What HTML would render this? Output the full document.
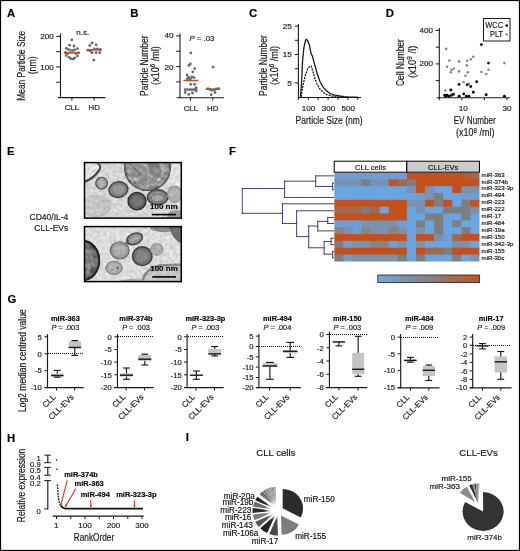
<!DOCTYPE html>
<html><head><meta charset="utf-8"><title>Figure</title>
<style>html,body{margin:0;padding:0;background:#fff;}body{width:520px;height:551px;overflow:hidden;}svg{display:block;font-family:"Liberation Sans",sans-serif;will-change:transform;transform:translateZ(0);}text{stroke:#1a1a1a;stroke-width:0.18px;}</style></head><body>
<svg width="520" height="551" viewBox="0 0 520 551">
<defs>
<linearGradient id="hg" x1="0" x2="1" y1="0" y2="0"><stop offset="0" stop-color="#6ea9e2"/><stop offset="0.5" stop-color="#86817d"/><stop offset="1" stop-color="#c4531d"/></linearGradient>
<radialGradient id="pg"><stop offset="0" stop-color="#fff" stop-opacity="1"/><stop offset="0.45" stop-color="#fff" stop-opacity="0.8"/><stop offset="1" stop-color="#fff" stop-opacity="0"/></radialGradient>
<filter id="em" x="0" y="0" width="100%" height="100%" color-interpolation-filters="sRGB"><feGaussianBlur in="SourceGraphic" stdDeviation="0.75" result="b"/><feTurbulence type="fractalNoise" baseFrequency="0.3" numOctaves="2" seed="11" result="t"/><feColorMatrix in="t" type="matrix" values="1 0 0 0 0  1 0 0 0 0  1 0 0 0 0  0 0 0 0 1" result="g"/><feComposite in="b" in2="g" operator="arithmetic" k1="0.28" k2="0.86" k3="0" k4="0"/></filter>
<filter id="em2" x="-10%" y="-10%" width="120%" height="120%" color-interpolation-filters="sRGB"><feTurbulence type="fractalNoise" baseFrequency="0.22" numOctaves="3" seed="5" result="t"/><feColorMatrix in="t" type="matrix" values="1 0 0 0 0  1 0 0 0 0  1 0 0 0 0  0 0 0 0 1" result="g"/><feComposite in="SourceGraphic" in2="g" operator="arithmetic" k1="0.9" k2="0.55" k3="0" k4="0" result="c"/><feComposite in="c" in2="SourceGraphic" operator="in"/></filter>
</defs>
<rect x="0" y="0" width="520" height="551" fill="#fff"/>
<text x="7.10" y="17.00" font-size="11.4" text-anchor="start" font-weight="bold" font-style="normal" fill="#000" stroke-width="0">A</text>
<line x1="60.50" y1="33.50" x2="60.50" y2="98.00" stroke="#1a1a1a" stroke-width="1.1" />
<line x1="58.00" y1="97.60" x2="105.20" y2="97.60" stroke="#1a1a1a" stroke-width="1.1" />
<line x1="56.20" y1="36.40" x2="60.50" y2="36.40" stroke="#1a1a1a" stroke-width="1" />
<line x1="56.20" y1="51.68" x2="60.50" y2="51.68" stroke="#1a1a1a" stroke-width="1" />
<line x1="56.20" y1="66.95" x2="60.50" y2="66.95" stroke="#1a1a1a" stroke-width="1" />
<line x1="56.20" y1="82.22" x2="60.50" y2="82.22" stroke="#1a1a1a" stroke-width="1" />
<text x="53.80" y="39.00" font-size="8.1" text-anchor="end" font-weight="normal" font-style="normal" fill="#1a1a1a" >200</text>
<text x="53.80" y="69.50" font-size="8.1" text-anchor="end" font-weight="normal" font-style="normal" fill="#1a1a1a" >100</text>
<line x1="71.90" y1="97.60" x2="71.90" y2="100.50" stroke="#1a1a1a" stroke-width="1" />
<line x1="94.20" y1="97.60" x2="94.20" y2="100.50" stroke="#1a1a1a" stroke-width="1" />
<text x="71.90" y="110.30" font-size="7.8" text-anchor="middle" font-weight="normal" font-style="normal" fill="#1a1a1a" >CLL</text>
<text x="94.20" y="110.30" font-size="7.8" text-anchor="middle" font-weight="normal" font-style="normal" fill="#1a1a1a" >HD</text>
<text x="82.80" y="34.50" font-size="8" text-anchor="middle" font-weight="normal" font-style="normal" fill="#1a1a1a" >n.s.</text>
<text transform="translate(24.50 100.70) rotate(-90) scale(0.8231 1)" font-size="10.2" fill="#1a1a1a">Mean Particle Size</text>
<text transform="translate(35.60 74.30) rotate(-90) scale(0.8586 1)" font-size="10.2" fill="#1a1a1a">(nm)</text>
<circle cx="71.9" cy="39.8" r="1.4" fill="#686868"/>
<circle cx="69.6" cy="45.2" r="1.4" fill="#686868"/>
<circle cx="74.0" cy="46.0" r="1.4" fill="#686868"/>
<circle cx="66.2" cy="48.4" r="1.4" fill="#686868"/>
<circle cx="77.5" cy="48.7" r="1.4" fill="#686868"/>
<circle cx="68.5" cy="49.5" r="1.4" fill="#686868"/>
<circle cx="74.8" cy="49.8" r="1.4" fill="#686868"/>
<circle cx="70.8" cy="50.6" r="1.4" fill="#686868"/>
<circle cx="73.1" cy="50.6" r="1.4" fill="#686868"/>
<circle cx="66.2" cy="55.6" r="1.4" fill="#686868"/>
<circle cx="77.5" cy="55.9" r="1.4" fill="#686868"/>
<circle cx="69.0" cy="57.3" r="1.4" fill="#686868"/>
<circle cx="74.8" cy="57.9" r="1.4" fill="#686868"/>
<circle cx="70.8" cy="58.7" r="1.4" fill="#686868"/>
<circle cx="73.1" cy="59.0" r="1.4" fill="#686868"/>
<circle cx="65.5" cy="52.5" r="1.4" fill="#686868"/>
<circle cx="78.5" cy="52.7" r="1.4" fill="#686868"/>
<circle cx="67.8" cy="53.6" r="1.4" fill="#686868"/>
<circle cx="76.2" cy="53.5" r="1.4" fill="#686868"/>
<circle cx="92.1" cy="42.9" r="1.4" fill="#686868"/>
<circle cx="89.8" cy="45.5" r="1.4" fill="#686868"/>
<circle cx="96.2" cy="44.8" r="1.4" fill="#686868"/>
<circle cx="94.4" cy="49.0" r="1.4" fill="#686868"/>
<circle cx="97.3" cy="49.0" r="1.4" fill="#686868"/>
<circle cx="100.2" cy="49.5" r="1.4" fill="#686868"/>
<circle cx="88.0" cy="50.2" r="1.4" fill="#686868"/>
<circle cx="90.4" cy="51.0" r="1.4" fill="#686868"/>
<circle cx="92.1" cy="52.7" r="1.4" fill="#686868"/>
<circle cx="96.2" cy="52.7" r="1.4" fill="#686868"/>
<circle cx="99.8" cy="52.7" r="1.4" fill="#686868"/>
<circle cx="93.8" cy="60.2" r="1.4" fill="#686868"/>
<line x1="64.20" y1="52.90" x2="79.80" y2="52.90" stroke="#c4442c" stroke-width="1.6" />
<line x1="86.70" y1="49.80" x2="101.70" y2="49.80" stroke="#c4442c" stroke-width="1.6" />
<text x="130.20" y="17.10" font-size="11.4" text-anchor="start" font-weight="bold" font-style="normal" fill="#000" stroke-width="0">B</text>
<line x1="180.00" y1="33.50" x2="180.00" y2="98.10" stroke="#1a1a1a" stroke-width="1.1" />
<line x1="176.60" y1="97.70" x2="224.00" y2="97.70" stroke="#1a1a1a" stroke-width="1.1" />
<line x1="176.20" y1="35.90" x2="180.00" y2="35.90" stroke="#1a1a1a" stroke-width="1" />
<line x1="176.20" y1="51.25" x2="180.00" y2="51.25" stroke="#1a1a1a" stroke-width="1" />
<line x1="176.20" y1="66.60" x2="180.00" y2="66.60" stroke="#1a1a1a" stroke-width="1" />
<line x1="176.20" y1="81.95" x2="180.00" y2="81.95" stroke="#1a1a1a" stroke-width="1" />
<text x="173.60" y="38.40" font-size="8.1" text-anchor="end" font-weight="normal" font-style="normal" fill="#1a1a1a" >40</text>
<text x="173.60" y="69.60" font-size="8.1" text-anchor="end" font-weight="normal" font-style="normal" fill="#1a1a1a" >20</text>
<line x1="190.50" y1="97.70" x2="190.50" y2="100.50" stroke="#1a1a1a" stroke-width="1" />
<line x1="212.80" y1="97.70" x2="212.80" y2="100.50" stroke="#1a1a1a" stroke-width="1" />
<text x="190.90" y="110.60" font-size="7.8" text-anchor="middle" font-weight="normal" font-style="normal" fill="#1a1a1a" >CLL</text>
<text x="212.70" y="110.60" font-size="7.8" text-anchor="middle" font-weight="normal" font-style="normal" fill="#1a1a1a" >HD</text>
<text x="201.9" y="41" font-size="7.7" text-anchor="middle" fill="#1a1a1a"><tspan font-style="italic">P</tspan> = .03</text>
<text transform="translate(148.10 95.90) rotate(-90) scale(0.8260 1)" font-size="10.2" fill="#1a1a1a">Particle Number</text>
<text transform="translate(158.70 84.90) rotate(-90) scale(0.8914 1)" font-size="10.2" fill="#1a1a1a">(x10<tspan font-size="6.94" dy="-3.67">6</tspan><tspan dy="3.67"> /ml)</tspan></text>
<circle cx="190.8" cy="52.9" r="1.4" fill="#686868"/>
<circle cx="190.3" cy="63.9" r="1.4" fill="#686868"/>
<circle cx="188.9" cy="65.4" r="1.4" fill="#686868"/>
<circle cx="194.7" cy="68.6" r="1.4" fill="#686868"/>
<circle cx="192.8" cy="71.8" r="1.4" fill="#686868"/>
<circle cx="187.1" cy="75.1" r="1.4" fill="#686868"/>
<circle cx="188.6" cy="77.3" r="1.4" fill="#686868"/>
<circle cx="191.8" cy="77.0" r="1.4" fill="#686868"/>
<circle cx="194.0" cy="77.6" r="1.4" fill="#686868"/>
<circle cx="187.4" cy="79.0" r="1.4" fill="#686868"/>
<circle cx="190.3" cy="79.0" r="1.4" fill="#686868"/>
<circle cx="190.8" cy="84.3" r="1.4" fill="#686868"/>
<circle cx="194.7" cy="84.3" r="1.4" fill="#686868"/>
<circle cx="196.1" cy="87.7" r="1.4" fill="#686868"/>
<circle cx="185.2" cy="89.6" r="1.4" fill="#686868"/>
<circle cx="187.4" cy="89.6" r="1.4" fill="#686868"/>
<circle cx="189.6" cy="89.6" r="1.4" fill="#686868"/>
<circle cx="191.8" cy="89.6" r="1.4" fill="#686868"/>
<circle cx="194.0" cy="89.6" r="1.4" fill="#686868"/>
<circle cx="196.1" cy="89.6" r="1.4" fill="#686868"/>
<circle cx="196.1" cy="91.1" r="1.4" fill="#686868"/>
<circle cx="185.2" cy="92.5" r="1.4" fill="#686868"/>
<circle cx="192.5" cy="93.0" r="1.4" fill="#686868"/>
<circle cx="188.9" cy="94.4" r="1.4" fill="#686868"/>
<circle cx="213.1" cy="67.1" r="1.4" fill="#686868"/>
<circle cx="208.0" cy="88.6" r="1.4" fill="#686868"/>
<circle cx="210.0" cy="89.5" r="1.4" fill="#686868"/>
<circle cx="212.2" cy="90.3" r="1.4" fill="#686868"/>
<circle cx="214.4" cy="89.6" r="1.4" fill="#686868"/>
<circle cx="216.5" cy="88.9" r="1.4" fill="#686868"/>
<circle cx="218.7" cy="88.6" r="1.4" fill="#686868"/>
<circle cx="215.0" cy="92.5" r="1.4" fill="#686868"/>
<circle cx="211.1" cy="94.7" r="1.4" fill="#686868"/>
<line x1="183.40" y1="80.50" x2="198.30" y2="80.50" stroke="#c4442c" stroke-width="1.5" />
<line x1="205.60" y1="89.20" x2="220.10" y2="89.20" stroke="#c4442c" stroke-width="1.5" />
<text x="249.10" y="17.10" font-size="11.4" text-anchor="start" font-weight="bold" font-style="normal" fill="#000" stroke-width="0">C</text>
<line x1="298.40" y1="24.00" x2="298.40" y2="97.90" stroke="#1a1a1a" stroke-width="1.1" />
<line x1="297.90" y1="97.50" x2="361.00" y2="97.50" stroke="#1a1a1a" stroke-width="1.1" />
<line x1="294.80" y1="26.10" x2="298.40" y2="26.10" stroke="#1a1a1a" stroke-width="1" />
<line x1="294.80" y1="40.30" x2="298.40" y2="40.30" stroke="#1a1a1a" stroke-width="1" />
<line x1="294.80" y1="54.50" x2="298.40" y2="54.50" stroke="#1a1a1a" stroke-width="1" />
<line x1="294.80" y1="68.70" x2="298.40" y2="68.70" stroke="#1a1a1a" stroke-width="1" />
<line x1="294.80" y1="82.90" x2="298.40" y2="82.90" stroke="#1a1a1a" stroke-width="1" />
<text x="291.80" y="28.90" font-size="8.1" text-anchor="end" font-weight="normal" font-style="normal" fill="#1a1a1a" >25</text>
<text x="291.80" y="57.30" font-size="8.1" text-anchor="end" font-weight="normal" font-style="normal" fill="#1a1a1a" >15</text>
<text x="291.80" y="85.70" font-size="8.1" text-anchor="end" font-weight="normal" font-style="normal" fill="#1a1a1a" >5</text>
<line x1="298.40" y1="97.50" x2="298.40" y2="99.90" stroke="#1a1a1a" stroke-width="1" />
<line x1="308.30" y1="97.50" x2="308.30" y2="99.90" stroke="#1a1a1a" stroke-width="1" />
<line x1="318.20" y1="97.50" x2="318.20" y2="99.90" stroke="#1a1a1a" stroke-width="1" />
<line x1="328.10" y1="97.50" x2="328.10" y2="99.90" stroke="#1a1a1a" stroke-width="1" />
<line x1="338.00" y1="97.50" x2="338.00" y2="99.90" stroke="#1a1a1a" stroke-width="1" />
<line x1="347.90" y1="97.50" x2="347.90" y2="99.90" stroke="#1a1a1a" stroke-width="1" />
<line x1="357.80" y1="97.50" x2="357.80" y2="99.90" stroke="#1a1a1a" stroke-width="1" />
<text x="308.60" y="110.50" font-size="8.1" text-anchor="middle" font-weight="normal" font-style="normal" fill="#1a1a1a" >100</text>
<text x="328.40" y="110.50" font-size="8.1" text-anchor="middle" font-weight="normal" font-style="normal" fill="#1a1a1a" >300</text>
<text x="348.20" y="110.50" font-size="8.1" text-anchor="middle" font-weight="normal" font-style="normal" fill="#1a1a1a" >500</text>
<text transform="translate(295.60 123.60) scale(0.8349 1)" font-size="10.2" fill="#1a1a1a">Particle Size (nm)</text>
<text transform="translate(266.60 96.00) rotate(-90) scale(0.8342 1)" font-size="10.2" fill="#1a1a1a">Particle Number</text>
<text transform="translate(278.00 85.00) rotate(-90) scale(0.8960 1)" font-size="10.2" fill="#1a1a1a">(x10<tspan font-size="6.94" dy="-3.67">6</tspan><tspan dy="3.67"> /ml)</tspan></text>
<polyline fill="none" stroke="#1a1a1a" stroke-width="1.3" stroke-linejoin="round" points="300.5,96.8 301.6,81.7 302.6,60.1 303.9,47.7 305.4,40.8 306.2,39.3 307.7,40.8 309.3,44.7 310.8,52.4 312.4,56.2 314.7,64.7 317,73.2 320.1,81.7 323.1,87.1 327,91.2 330.8,94 334.7,95.2 339.3,95.8 344,96.6 348.6,96.9 357.8,97.1"/>
<polyline fill="none" stroke="#1a1a1a" stroke-width="1.3" stroke-dasharray="2 1" stroke-linejoin="round" points="301.1,96.8 303.1,84.7 305.4,75.5 307.7,68.6 310,66.2 311.3,66.2 312.8,70.9 314.7,77.8 317,84 320.1,89.4 323.1,92.4 327,94.8 331.6,96 337.8,96.6 344,96.9"/>
<text x="385.80" y="17.10" font-size="11.4" text-anchor="start" font-weight="bold" font-style="normal" fill="#000" stroke-width="0">D</text>
<line x1="439.30" y1="28.00" x2="439.30" y2="98.20" stroke="#1a1a1a" stroke-width="1.1" />
<line x1="436.80" y1="97.80" x2="510.00" y2="97.80" stroke="#1a1a1a" stroke-width="1.1" />
<line x1="435.70" y1="30.40" x2="439.30" y2="30.40" stroke="#1a1a1a" stroke-width="1" />
<line x1="435.70" y1="47.15" x2="439.30" y2="47.15" stroke="#1a1a1a" stroke-width="1" />
<line x1="435.70" y1="63.90" x2="439.30" y2="63.90" stroke="#1a1a1a" stroke-width="1" />
<line x1="435.70" y1="80.65" x2="439.30" y2="80.65" stroke="#1a1a1a" stroke-width="1" />
<text x="433.00" y="32.90" font-size="8.1" text-anchor="end" font-weight="normal" font-style="normal" fill="#1a1a1a" >400</text>
<text x="433.00" y="66.40" font-size="8.1" text-anchor="end" font-weight="normal" font-style="normal" fill="#1a1a1a" >200</text>
<line x1="439.30" y1="97.80" x2="439.30" y2="100.20" stroke="#1a1a1a" stroke-width="1" />
<line x1="461.85" y1="97.80" x2="461.85" y2="100.20" stroke="#1a1a1a" stroke-width="1" />
<line x1="484.40" y1="97.80" x2="484.40" y2="100.20" stroke="#1a1a1a" stroke-width="1" />
<line x1="506.95" y1="97.80" x2="506.95" y2="100.20" stroke="#1a1a1a" stroke-width="1" />
<text x="463.20" y="110.50" font-size="8.1" text-anchor="middle" font-weight="normal" font-style="normal" fill="#1a1a1a" >10</text>
<text x="506.90" y="110.50" font-size="8.1" text-anchor="middle" font-weight="normal" font-style="normal" fill="#1a1a1a" >30</text>
<text transform="translate(453.70 124.20) scale(0.7967 1)" font-size="10.2" fill="#1a1a1a">EV Number</text>
<text transform="translate(456.00 136.40) scale(0.8822 1)" font-size="10.2" fill="#1a1a1a">(x10<tspan font-size="6.94" dy="-3.67">8</tspan><tspan dy="3.67"> /ml)</tspan></text>
<text transform="translate(404.00 86.00) rotate(-90) scale(0.8291 1)" font-size="10.2" fill="#1a1a1a">Cell Number</text>
<text transform="translate(415.70 78.00) rotate(-90) scale(0.9249 1)" font-size="10.2" fill="#1a1a1a">(x10<tspan font-size="6.94" dy="-3.67">9</tspan><tspan dy="3.67"> /l)</tspan></text>
<rect x="483.5" y="18.5" width="26.5" height="22.5" fill="#fff" stroke="#1a1a1a" stroke-width="1"/>
<text transform="translate(503.00 28.20) scale(0.88 1)" font-size="8.4" text-anchor="end" font-weight="normal" font-style="normal" fill="#1a1a1a" >WCC</text>
<text transform="translate(503.00 37.20) scale(0.88 1)" font-size="8.4" text-anchor="end" font-weight="normal" font-style="normal" fill="#1a1a1a" >PLT</text>
<circle cx="506.7" cy="25.6" r="1.3" fill="#000"/>
<circle cx="506.7" cy="34.4" r="1.2" fill="#808080"/>
<circle cx="446.1" cy="48.9" r="1.3" fill="#858585"/>
<circle cx="473.3" cy="56.7" r="1.3" fill="#858585"/>
<circle cx="471.0" cy="59.3" r="1.3" fill="#858585"/>
<circle cx="449.4" cy="60.5" r="1.3" fill="#858585"/>
<circle cx="459.1" cy="61.4" r="1.3" fill="#858585"/>
<circle cx="467.2" cy="60.7" r="1.3" fill="#858585"/>
<circle cx="504.4" cy="63.1" r="1.3" fill="#858585"/>
<circle cx="466.7" cy="65.4" r="1.3" fill="#858585"/>
<circle cx="447.0" cy="66.8" r="1.3" fill="#858585"/>
<circle cx="453.9" cy="68.5" r="1.3" fill="#858585"/>
<circle cx="451.6" cy="69.7" r="1.3" fill="#858585"/>
<circle cx="488.5" cy="69.7" r="1.3" fill="#858585"/>
<circle cx="459.1" cy="71.4" r="1.3" fill="#858585"/>
<circle cx="450.8" cy="72.3" r="1.3" fill="#858585"/>
<circle cx="467.7" cy="72.3" r="1.3" fill="#858585"/>
<circle cx="481.4" cy="72.0" r="1.3" fill="#858585"/>
<circle cx="486.2" cy="74.0" r="1.3" fill="#858585"/>
<circle cx="465.5" cy="75.8" r="1.3" fill="#858585"/>
<circle cx="463.7" cy="82.3" r="1.3" fill="#858585"/>
<circle cx="468.9" cy="83.8" r="1.3" fill="#858585"/>
<circle cx="445.2" cy="90.5" r="1.3" fill="#858585"/>
<circle cx="481.4" cy="44.6" r="1.45" fill="#0a0a0a"/>
<circle cx="488.5" cy="63.1" r="1.45" fill="#0a0a0a"/>
<circle cx="476.7" cy="81.8" r="1.45" fill="#0a0a0a"/>
<circle cx="459.1" cy="84.4" r="1.45" fill="#0a0a0a"/>
<circle cx="467.2" cy="84.8" r="1.45" fill="#0a0a0a"/>
<circle cx="470.7" cy="86.5" r="1.45" fill="#0a0a0a"/>
<circle cx="450.8" cy="90.0" r="1.45" fill="#0a0a0a"/>
<circle cx="473.3" cy="92.2" r="1.45" fill="#0a0a0a"/>
<circle cx="463.7" cy="93.9" r="1.45" fill="#0a0a0a"/>
<circle cx="486.2" cy="94.8" r="1.45" fill="#0a0a0a"/>
<circle cx="453.4" cy="94.3" r="1.45" fill="#0a0a0a"/>
<circle cx="444.7" cy="95.2" r="1.45" fill="#0a0a0a"/>
<circle cx="447.0" cy="95.2" r="1.45" fill="#0a0a0a"/>
<circle cx="451.6" cy="95.3" r="1.45" fill="#0a0a0a"/>
<circle cx="449.0" cy="96.3" r="1.45" fill="#0a0a0a"/>
<circle cx="445.6" cy="96.3" r="1.45" fill="#0a0a0a"/>
<circle cx="459.1" cy="96.3" r="1.45" fill="#0a0a0a"/>
<circle cx="466.3" cy="96.3" r="1.45" fill="#0a0a0a"/>
<circle cx="468.9" cy="96.3" r="1.45" fill="#0a0a0a"/>
<circle cx="504.4" cy="96.3" r="1.45" fill="#0a0a0a"/>
<text x="6.90" y="154.70" font-size="11.4" text-anchor="start" font-weight="bold" font-style="normal" fill="#000" stroke-width="0">E</text>
<text x="68.30" y="220.20" font-size="8.5" text-anchor="end" font-weight="normal" font-style="normal" fill="#222" >CD40/IL-4</text>
<text x="68.30" y="230.80" font-size="8.5" text-anchor="end" font-weight="normal" font-style="normal" fill="#222" >CLL-EVs</text>
<clipPath id="emc1"><rect x="84.5" y="162.6" width="96.8" height="55.5"/></clipPath>
<g clip-path="url(#emc1)">
<g filter="url(#em)">
<rect x="80.5" y="158.6" width="104.8" height="63.5" fill="#d6d6d6"/>
<radialGradient id="vg1"><stop offset="0" stop-color="#c9c9c9"/><stop offset="0.62" stop-color="#c9c9c9"/><stop offset="1" stop-color="#c2c2c2"/></radialGradient>
<ellipse cx="96.0" cy="206.0" rx="15.0" ry="10.5" fill="url(#vg1)" stroke="#b0b0b0" stroke-width="0.8"/>
<radialGradient id="vg2"><stop offset="0" stop-color="#c0c0c0"/><stop offset="0.62" stop-color="#c0c0c0"/><stop offset="1" stop-color="#c6c6c6"/></radialGradient>
<ellipse cx="104.0" cy="203.0" rx="6.0" ry="5.0" fill="url(#vg2)" stroke="#b8b8b8" stroke-width="0.5"/>
<path d="M84 182 C91 179.5 97 174 99.5 169.5 C101 166.5 99.5 164 96 162" fill="none" stroke="#484848" stroke-width="1.9"/>
<path d="M85 180 C92 177 97 171 100 167 L101 161 L84 161 Z" fill="#e2e2e2"/>
<path d="M84 182 C91 179.5 97 174 99.5 169.5 C101 166.5 99.5 164 96 162" fill="none" stroke="#484848" stroke-width="1.9"/>
<ellipse cx="176" cy="176" rx="7" ry="12" fill="#e2e2e2"/>
<g filter="url(#em2)">
<radialGradient id="vg3"><stop offset="0" stop-color="#a6a6a6"/><stop offset="0.72" stop-color="#a6a6a6"/><stop offset="1" stop-color="#808080"/></radialGradient>
<ellipse cx="147.5" cy="167.5" rx="22.8" ry="23.0" fill="url(#vg3)" stroke="#5a5a5a" stroke-width="1.5"/>
</g>
<ellipse cx="140" cy="172" rx="9" ry="7" fill="#8a8a8a" opacity="0.7"/>
<ellipse cx="155" cy="170" rx="6" ry="9" fill="#6e6e6e" opacity="0.55" transform="rotate(-25 155 170)"/>
<ellipse cx="147" cy="181" rx="10" ry="4" fill="#808080" opacity="0.6"/>
<path d="M129 163 L141 175" stroke="#555" stroke-width="1.6" opacity="0.55"/>
<radialGradient id="vg4"><stop offset="0" stop-color="#b0b0b0"/><stop offset="0.5" stop-color="#b0b0b0"/><stop offset="1" stop-color="#808080"/></radialGradient>
<ellipse cx="101.6" cy="183.2" rx="5.9" ry="5.9" fill="url(#vg4)" stroke="#545454" stroke-width="1.1"/>
<radialGradient id="vg5"><stop offset="0" stop-color="#939393"/><stop offset="0.5" stop-color="#939393"/><stop offset="1" stop-color="#686868"/></radialGradient>
<ellipse cx="118.4" cy="189.6" rx="9.6" ry="7.8" fill="url(#vg5)" stroke="#424242" stroke-width="1.3" transform="rotate(-10 118.4 189.6)"/>
<ellipse cx="119.5" cy="189" rx="4" ry="3" fill="#9a9a9a" opacity="0.6"/>
<radialGradient id="vg6"><stop offset="0" stop-color="#747474"/><stop offset="0.5" stop-color="#747474"/><stop offset="1" stop-color="#505050"/></radialGradient>
<ellipse cx="137.0" cy="201.2" rx="8.9" ry="8.7" fill="url(#vg6)" stroke="#303030" stroke-width="1.4"/>
<radialGradient id="vg7"><stop offset="0" stop-color="#a2a2a2"/><stop offset="0.5" stop-color="#a2a2a2"/><stop offset="1" stop-color="#6c6c6c"/></radialGradient>
<ellipse cx="157.6" cy="197.2" rx="10.2" ry="7.4" fill="url(#vg7)" stroke="#444444" stroke-width="1.4"/>
<ellipse cx="157.6" cy="198" rx="6.5" ry="4" fill="none" stroke="#666" stroke-width="0.9"/>
<radialGradient id="vg8"><stop offset="0" stop-color="#b2b2b2"/><stop offset="0.62" stop-color="#b2b2b2"/><stop offset="1" stop-color="#a2a2a2"/></radialGradient>
<ellipse cx="174.6" cy="194.2" rx="7.2" ry="8.2" fill="url(#vg8)" stroke="#8a8a8a" stroke-width="0.9"/>
<ellipse cx="176" cy="216" rx="9" ry="6" fill="#9c9c9c"/>
</g></g>
<rect x="84.5" y="162.6" width="96.8" height="55.5" fill="none" stroke="#000" stroke-width="1.5"/>
<text x="163.80" y="208.70" font-size="8" text-anchor="middle" font-weight="bold" font-style="normal" fill="#000" >100 nm</text>
<line x1="151.80" y1="214.60" x2="176.00" y2="214.60" stroke="#000" stroke-width="1.6" />
<clipPath id="emc2"><rect x="84.5" y="226.6" width="96.8" height="55"/></clipPath>
<g clip-path="url(#emc2)">
<g filter="url(#em)">
<rect x="80.5" y="222.6" width="104.8" height="63" fill="#dcdcdc"/>
<path d="M141 284 C144 274 150 266.5 160 265.5 L182 264.5 L182 284 Z" fill="#c6c6c6" stroke="#868686" stroke-width="2.6"/>
<path d="M150 226 L172 226 L171 231.5 C164 233 156 232 150 229 Z" fill="#8a8a8a"/>
<path d="M170 226 L182 226 L182 243 C176 241 171.5 235 170 226 Z" fill="#6e6e6e" stroke="#555" stroke-width="1"/>
<g filter="url(#em2)">
<radialGradient id="vg9"><stop offset="0" stop-color="#828282"/><stop offset="0.6" stop-color="#828282"/><stop offset="1" stop-color="#565656"/></radialGradient>
<ellipse cx="83.0" cy="260.5" rx="16.2" ry="19.5" fill="url(#vg9)" stroke="#242424" stroke-width="2.3"/>
</g>
<ellipse cx="88" cy="255" rx="5" ry="8" fill="#808080" opacity="0.5"/>
<radialGradient id="vg10"><stop offset="0" stop-color="#b0b0b0"/><stop offset="0.5" stop-color="#b0b0b0"/><stop offset="1" stop-color="#8c8c8c"/></radialGradient>
<ellipse cx="119.7" cy="250.4" rx="9.4" ry="8.6" fill="url(#vg10)" stroke="#6a6a6a" stroke-width="1.1"/>
<radialGradient id="vg11"><stop offset="0" stop-color="#b8b8b8"/><stop offset="0.5" stop-color="#b8b8b8"/><stop offset="1" stop-color="#9a9a9a"/></radialGradient>
<ellipse cx="114.0" cy="267.9" rx="8.2" ry="6.6" fill="url(#vg11)" stroke="#7c7c7c" stroke-width="1.0"/>
<circle cx="117.5" cy="268" r="1.4" fill="#666"/><circle cx="112" cy="270" r="1" fill="#777"/>
<radialGradient id="vg12"><stop offset="0" stop-color="#969696"/><stop offset="0.62" stop-color="#969696"/><stop offset="1" stop-color="#707070"/></radialGradient>
<ellipse cx="134.6" cy="238.8" rx="8.2" ry="5.4" fill="url(#vg12)" stroke="#454545" stroke-width="1.4" transform="rotate(-22 134.6 238.8)"/>
<ellipse cx="134.6" cy="238.8" rx="4.5" ry="1.6" fill="#b0b0b0" opacity="0.7" transform="rotate(-22 134.6 238.8)"/>
<path d="M125.5 243.5 L129 240.5" stroke="#555" stroke-width="1.4"/>
<radialGradient id="vg13"><stop offset="0" stop-color="#848484"/><stop offset="0.5" stop-color="#848484"/><stop offset="1" stop-color="#5e5e5e"/></radialGradient>
<ellipse cx="142.3" cy="256.2" rx="9.8" ry="9.4" fill="url(#vg13)" stroke="#3e3e3e" stroke-width="1.4"/>
<radialGradient id="vg14"><stop offset="0" stop-color="#b0b0b0"/><stop offset="0.62" stop-color="#b0b0b0"/><stop offset="1" stop-color="#a4a4a4"/></radialGradient>
<ellipse cx="156.8" cy="249.4" rx="6.3" ry="6.0" fill="url(#vg14)" stroke="#909090" stroke-width="0.8"/>
<ellipse cx="133" cy="282" rx="14" ry="3" fill="#a8a8a8"/>
</g></g>
<rect x="84.5" y="226.6" width="96.8" height="55" fill="none" stroke="#000" stroke-width="1.5"/>
<text x="164.00" y="271.10" font-size="8" text-anchor="middle" font-weight="bold" font-style="normal" fill="#000" >100 nm</text>
<line x1="152.20" y1="276.90" x2="176.00" y2="276.90" stroke="#000" stroke-width="1.6" />
<text x="228.90" y="154.70" font-size="11.4" text-anchor="start" font-weight="bold" font-style="normal" fill="#000" stroke-width="0">F</text>
<clipPath id="hmc"><rect x="334.2" y="172.5" width="145.28" height="88.92"/></clipPath><g clip-path="url(#hmc)">
<rect x="334.20" y="172.50" width="10.08" height="7.84" fill="#6f9fd2"/>
<rect x="343.28" y="172.50" width="10.08" height="7.84" fill="#6f9fd2"/>
<rect x="352.36" y="172.50" width="10.08" height="7.84" fill="#6f9fd2"/>
<rect x="361.44" y="172.50" width="10.08" height="7.84" fill="#6f9fd2"/>
<rect x="370.52" y="172.50" width="10.08" height="7.84" fill="#6f9fd2"/>
<rect x="379.60" y="172.50" width="10.08" height="7.84" fill="#6f9fd2"/>
<rect x="388.68" y="172.50" width="10.08" height="7.84" fill="#6f9fd2"/>
<rect x="397.76" y="172.50" width="10.08" height="7.84" fill="#6f9fd2"/>
<rect x="406.84" y="172.50" width="10.08" height="7.84" fill="#c4501c"/>
<rect x="415.92" y="172.50" width="10.08" height="7.84" fill="#c4501c"/>
<rect x="425.00" y="172.50" width="10.08" height="7.84" fill="#c4501c"/>
<rect x="434.08" y="172.50" width="10.08" height="7.84" fill="#c4501c"/>
<rect x="443.16" y="172.50" width="10.08" height="7.84" fill="#c4501c"/>
<rect x="452.24" y="172.50" width="10.08" height="7.84" fill="#c4501c"/>
<rect x="461.32" y="172.50" width="10.08" height="7.84" fill="#b65a2a"/>
<rect x="470.40" y="172.50" width="10.08" height="7.84" fill="#a0694a"/>
<rect x="334.20" y="179.34" width="10.08" height="7.84" fill="#7a92ae"/>
<rect x="343.28" y="179.34" width="10.08" height="7.84" fill="#7a92ae"/>
<rect x="352.36" y="179.34" width="10.08" height="7.84" fill="#7a92ae"/>
<rect x="361.44" y="179.34" width="10.08" height="7.84" fill="#7e7e80"/>
<rect x="370.52" y="179.34" width="10.08" height="7.84" fill="#7a92ae"/>
<rect x="379.60" y="179.34" width="10.08" height="7.84" fill="#7a92ae"/>
<rect x="388.68" y="179.34" width="10.08" height="7.84" fill="#c4501c"/>
<rect x="397.76" y="179.34" width="10.08" height="7.84" fill="#a0694a"/>
<rect x="406.84" y="179.34" width="10.08" height="7.84" fill="#7e7e80"/>
<rect x="415.92" y="179.34" width="10.08" height="7.84" fill="#c4501c"/>
<rect x="425.00" y="179.34" width="10.08" height="7.84" fill="#c4501c"/>
<rect x="434.08" y="179.34" width="10.08" height="7.84" fill="#c4501c"/>
<rect x="443.16" y="179.34" width="10.08" height="7.84" fill="#c4501c"/>
<rect x="452.24" y="179.34" width="10.08" height="7.84" fill="#c4501c"/>
<rect x="461.32" y="179.34" width="10.08" height="7.84" fill="#c4501c"/>
<rect x="470.40" y="179.34" width="10.08" height="7.84" fill="#c4501c"/>
<rect x="334.20" y="186.18" width="10.08" height="7.84" fill="#69a5e0"/>
<rect x="343.28" y="186.18" width="10.08" height="7.84" fill="#69a5e0"/>
<rect x="352.36" y="186.18" width="10.08" height="7.84" fill="#69a5e0"/>
<rect x="361.44" y="186.18" width="10.08" height="7.84" fill="#69a5e0"/>
<rect x="370.52" y="186.18" width="10.08" height="7.84" fill="#69a5e0"/>
<rect x="379.60" y="186.18" width="10.08" height="7.84" fill="#69a5e0"/>
<rect x="388.68" y="186.18" width="10.08" height="7.84" fill="#69a5e0"/>
<rect x="397.76" y="186.18" width="10.08" height="7.84" fill="#69a5e0"/>
<rect x="406.84" y="186.18" width="10.08" height="7.84" fill="#7a92ae"/>
<rect x="415.92" y="186.18" width="10.08" height="7.84" fill="#c4501c"/>
<rect x="425.00" y="186.18" width="10.08" height="7.84" fill="#7a92ae"/>
<rect x="434.08" y="186.18" width="10.08" height="7.84" fill="#69a5e0"/>
<rect x="443.16" y="186.18" width="10.08" height="7.84" fill="#69a5e0"/>
<rect x="452.24" y="186.18" width="10.08" height="7.84" fill="#c4501c"/>
<rect x="461.32" y="186.18" width="10.08" height="7.84" fill="#7a92ae"/>
<rect x="470.40" y="186.18" width="10.08" height="7.84" fill="#7a92ae"/>
<rect x="334.20" y="193.02" width="10.08" height="7.84" fill="#69a5e0"/>
<rect x="343.28" y="193.02" width="10.08" height="7.84" fill="#69a5e0"/>
<rect x="352.36" y="193.02" width="10.08" height="7.84" fill="#69a5e0"/>
<rect x="361.44" y="193.02" width="10.08" height="7.84" fill="#69a5e0"/>
<rect x="370.52" y="193.02" width="10.08" height="7.84" fill="#69a5e0"/>
<rect x="379.60" y="193.02" width="10.08" height="7.84" fill="#69a5e0"/>
<rect x="388.68" y="193.02" width="10.08" height="7.84" fill="#69a5e0"/>
<rect x="397.76" y="193.02" width="10.08" height="7.84" fill="#69a5e0"/>
<rect x="406.84" y="193.02" width="10.08" height="7.84" fill="#69a5e0"/>
<rect x="415.92" y="193.02" width="10.08" height="7.84" fill="#6f9fd2"/>
<rect x="425.00" y="193.02" width="10.08" height="7.84" fill="#7a92ae"/>
<rect x="434.08" y="193.02" width="10.08" height="7.84" fill="#7e7e80"/>
<rect x="443.16" y="193.02" width="10.08" height="7.84" fill="#69a5e0"/>
<rect x="452.24" y="193.02" width="10.08" height="7.84" fill="#69a5e0"/>
<rect x="461.32" y="193.02" width="10.08" height="7.84" fill="#6f9fd2"/>
<rect x="470.40" y="193.02" width="10.08" height="7.84" fill="#6f9fd2"/>
<rect x="334.20" y="199.86" width="10.08" height="7.84" fill="#c4501c"/>
<rect x="343.28" y="199.86" width="10.08" height="7.84" fill="#c4501c"/>
<rect x="352.36" y="199.86" width="10.08" height="7.84" fill="#c4501c"/>
<rect x="361.44" y="199.86" width="10.08" height="7.84" fill="#c4501c"/>
<rect x="370.52" y="199.86" width="10.08" height="7.84" fill="#c4501c"/>
<rect x="379.60" y="199.86" width="10.08" height="7.84" fill="#c4501c"/>
<rect x="388.68" y="199.86" width="10.08" height="7.84" fill="#c4501c"/>
<rect x="397.76" y="199.86" width="10.08" height="7.84" fill="#c4501c"/>
<rect x="406.84" y="199.86" width="10.08" height="7.84" fill="#7a92ae"/>
<rect x="415.92" y="199.86" width="10.08" height="7.84" fill="#7a92ae"/>
<rect x="425.00" y="199.86" width="10.08" height="7.84" fill="#c4501c"/>
<rect x="434.08" y="199.86" width="10.08" height="7.84" fill="#7e7e80"/>
<rect x="443.16" y="199.86" width="10.08" height="7.84" fill="#c4501c"/>
<rect x="452.24" y="199.86" width="10.08" height="7.84" fill="#69a5e0"/>
<rect x="461.32" y="199.86" width="10.08" height="7.84" fill="#7e7e80"/>
<rect x="470.40" y="199.86" width="10.08" height="7.84" fill="#c4501c"/>
<rect x="334.20" y="206.70" width="10.08" height="7.84" fill="#a0694a"/>
<rect x="343.28" y="206.70" width="10.08" height="7.84" fill="#a0694a"/>
<rect x="352.36" y="206.70" width="10.08" height="7.84" fill="#a0694a"/>
<rect x="361.44" y="206.70" width="10.08" height="7.84" fill="#7e7e80"/>
<rect x="370.52" y="206.70" width="10.08" height="7.84" fill="#a0694a"/>
<rect x="379.60" y="206.70" width="10.08" height="7.84" fill="#69a5e0"/>
<rect x="388.68" y="206.70" width="10.08" height="7.84" fill="#c4501c"/>
<rect x="397.76" y="206.70" width="10.08" height="7.84" fill="#c4501c"/>
<rect x="406.84" y="206.70" width="10.08" height="7.84" fill="#69a5e0"/>
<rect x="415.92" y="206.70" width="10.08" height="7.84" fill="#7a92ae"/>
<rect x="425.00" y="206.70" width="10.08" height="7.84" fill="#69a5e0"/>
<rect x="434.08" y="206.70" width="10.08" height="7.84" fill="#69a5e0"/>
<rect x="443.16" y="206.70" width="10.08" height="7.84" fill="#7e7e80"/>
<rect x="452.24" y="206.70" width="10.08" height="7.84" fill="#7e7e80"/>
<rect x="461.32" y="206.70" width="10.08" height="7.84" fill="#7e7e80"/>
<rect x="470.40" y="206.70" width="10.08" height="7.84" fill="#7a92ae"/>
<rect x="334.20" y="213.54" width="10.08" height="7.84" fill="#c4501c"/>
<rect x="343.28" y="213.54" width="10.08" height="7.84" fill="#c4501c"/>
<rect x="352.36" y="213.54" width="10.08" height="7.84" fill="#c4501c"/>
<rect x="361.44" y="213.54" width="10.08" height="7.84" fill="#c4501c"/>
<rect x="370.52" y="213.54" width="10.08" height="7.84" fill="#c4501c"/>
<rect x="379.60" y="213.54" width="10.08" height="7.84" fill="#c4501c"/>
<rect x="388.68" y="213.54" width="10.08" height="7.84" fill="#c4501c"/>
<rect x="397.76" y="213.54" width="10.08" height="7.84" fill="#c4501c"/>
<rect x="406.84" y="213.54" width="10.08" height="7.84" fill="#69a5e0"/>
<rect x="415.92" y="213.54" width="10.08" height="7.84" fill="#69a5e0"/>
<rect x="425.00" y="213.54" width="10.08" height="7.84" fill="#7e7e80"/>
<rect x="434.08" y="213.54" width="10.08" height="7.84" fill="#7e7e80"/>
<rect x="443.16" y="213.54" width="10.08" height="7.84" fill="#69a5e0"/>
<rect x="452.24" y="213.54" width="10.08" height="7.84" fill="#69a5e0"/>
<rect x="461.32" y="213.54" width="10.08" height="7.84" fill="#7e7e80"/>
<rect x="470.40" y="213.54" width="10.08" height="7.84" fill="#69a5e0"/>
<rect x="334.20" y="220.38" width="10.08" height="7.84" fill="#6f9fd2"/>
<rect x="343.28" y="220.38" width="10.08" height="7.84" fill="#6f9fd2"/>
<rect x="352.36" y="220.38" width="10.08" height="7.84" fill="#6f9fd2"/>
<rect x="361.44" y="220.38" width="10.08" height="7.84" fill="#7a92ae"/>
<rect x="370.52" y="220.38" width="10.08" height="7.84" fill="#7a92ae"/>
<rect x="379.60" y="220.38" width="10.08" height="7.84" fill="#7a92ae"/>
<rect x="388.68" y="220.38" width="10.08" height="7.84" fill="#7a92ae"/>
<rect x="397.76" y="220.38" width="10.08" height="7.84" fill="#6f9fd2"/>
<rect x="406.84" y="220.38" width="10.08" height="7.84" fill="#69a5e0"/>
<rect x="415.92" y="220.38" width="10.08" height="7.84" fill="#7e7e80"/>
<rect x="425.00" y="220.38" width="10.08" height="7.84" fill="#69a5e0"/>
<rect x="434.08" y="220.38" width="10.08" height="7.84" fill="#7e7e80"/>
<rect x="443.16" y="220.38" width="10.08" height="7.84" fill="#69a5e0"/>
<rect x="452.24" y="220.38" width="10.08" height="7.84" fill="#7e7e80"/>
<rect x="461.32" y="220.38" width="10.08" height="7.84" fill="#69a5e0"/>
<rect x="470.40" y="220.38" width="10.08" height="7.84" fill="#69a5e0"/>
<rect x="334.20" y="227.22" width="10.08" height="7.84" fill="#8a857c"/>
<rect x="343.28" y="227.22" width="10.08" height="7.84" fill="#7a92ae"/>
<rect x="352.36" y="227.22" width="10.08" height="7.84" fill="#6f9fd2"/>
<rect x="361.44" y="227.22" width="10.08" height="7.84" fill="#8a857c"/>
<rect x="370.52" y="227.22" width="10.08" height="7.84" fill="#7a92ae"/>
<rect x="379.60" y="227.22" width="10.08" height="7.84" fill="#7a92ae"/>
<rect x="388.68" y="227.22" width="10.08" height="7.84" fill="#8a857c"/>
<rect x="397.76" y="227.22" width="10.08" height="7.84" fill="#7a92ae"/>
<rect x="406.84" y="227.22" width="10.08" height="7.84" fill="#69a5e0"/>
<rect x="415.92" y="227.22" width="10.08" height="7.84" fill="#7a92ae"/>
<rect x="425.00" y="227.22" width="10.08" height="7.84" fill="#69a5e0"/>
<rect x="434.08" y="227.22" width="10.08" height="7.84" fill="#7e7e80"/>
<rect x="443.16" y="227.22" width="10.08" height="7.84" fill="#69a5e0"/>
<rect x="452.24" y="227.22" width="10.08" height="7.84" fill="#69a5e0"/>
<rect x="461.32" y="227.22" width="10.08" height="7.84" fill="#7e7e80"/>
<rect x="470.40" y="227.22" width="10.08" height="7.84" fill="#69a5e0"/>
<rect x="334.20" y="234.06" width="10.08" height="7.84" fill="#c4501c"/>
<rect x="343.28" y="234.06" width="10.08" height="7.84" fill="#c4501c"/>
<rect x="352.36" y="234.06" width="10.08" height="7.84" fill="#c4501c"/>
<rect x="361.44" y="234.06" width="10.08" height="7.84" fill="#c4501c"/>
<rect x="370.52" y="234.06" width="10.08" height="7.84" fill="#c4501c"/>
<rect x="379.60" y="234.06" width="10.08" height="7.84" fill="#c4501c"/>
<rect x="388.68" y="234.06" width="10.08" height="7.84" fill="#c4501c"/>
<rect x="397.76" y="234.06" width="10.08" height="7.84" fill="#c4501c"/>
<rect x="406.84" y="234.06" width="10.08" height="7.84" fill="#69a5e0"/>
<rect x="415.92" y="234.06" width="10.08" height="7.84" fill="#c4501c"/>
<rect x="425.00" y="234.06" width="10.08" height="7.84" fill="#c4501c"/>
<rect x="434.08" y="234.06" width="10.08" height="7.84" fill="#7a92ae"/>
<rect x="443.16" y="234.06" width="10.08" height="7.84" fill="#6f9fd2"/>
<rect x="452.24" y="234.06" width="10.08" height="7.84" fill="#a0694a"/>
<rect x="461.32" y="234.06" width="10.08" height="7.84" fill="#c4501c"/>
<rect x="470.40" y="234.06" width="10.08" height="7.84" fill="#c4501c"/>
<rect x="334.20" y="240.90" width="10.08" height="7.84" fill="#7e7e80"/>
<rect x="343.28" y="240.90" width="10.08" height="7.84" fill="#6f9fd2"/>
<rect x="352.36" y="240.90" width="10.08" height="7.84" fill="#7a92ae"/>
<rect x="361.44" y="240.90" width="10.08" height="7.84" fill="#7a92ae"/>
<rect x="370.52" y="240.90" width="10.08" height="7.84" fill="#8a857c"/>
<rect x="379.60" y="240.90" width="10.08" height="7.84" fill="#8a857c"/>
<rect x="388.68" y="240.90" width="10.08" height="7.84" fill="#6f9fd2"/>
<rect x="397.76" y="240.90" width="10.08" height="7.84" fill="#7a92ae"/>
<rect x="406.84" y="240.90" width="10.08" height="7.84" fill="#69a5e0"/>
<rect x="415.92" y="240.90" width="10.08" height="7.84" fill="#7a92ae"/>
<rect x="425.00" y="240.90" width="10.08" height="7.84" fill="#69a5e0"/>
<rect x="434.08" y="240.90" width="10.08" height="7.84" fill="#69a5e0"/>
<rect x="443.16" y="240.90" width="10.08" height="7.84" fill="#69a5e0"/>
<rect x="452.24" y="240.90" width="10.08" height="7.84" fill="#7a92ae"/>
<rect x="461.32" y="240.90" width="10.08" height="7.84" fill="#7a92ae"/>
<rect x="470.40" y="240.90" width="10.08" height="7.84" fill="#69a5e0"/>
<rect x="334.20" y="247.74" width="10.08" height="7.84" fill="#c4501c"/>
<rect x="343.28" y="247.74" width="10.08" height="7.84" fill="#c4501c"/>
<rect x="352.36" y="247.74" width="10.08" height="7.84" fill="#c4501c"/>
<rect x="361.44" y="247.74" width="10.08" height="7.84" fill="#c4501c"/>
<rect x="370.52" y="247.74" width="10.08" height="7.84" fill="#c4501c"/>
<rect x="379.60" y="247.74" width="10.08" height="7.84" fill="#c4501c"/>
<rect x="388.68" y="247.74" width="10.08" height="7.84" fill="#c4501c"/>
<rect x="397.76" y="247.74" width="10.08" height="7.84" fill="#c4501c"/>
<rect x="406.84" y="247.74" width="10.08" height="7.84" fill="#69a5e0"/>
<rect x="415.92" y="247.74" width="10.08" height="7.84" fill="#c4501c"/>
<rect x="425.00" y="247.74" width="10.08" height="7.84" fill="#a0694a"/>
<rect x="434.08" y="247.74" width="10.08" height="7.84" fill="#a0694a"/>
<rect x="443.16" y="247.74" width="10.08" height="7.84" fill="#7e7e80"/>
<rect x="452.24" y="247.74" width="10.08" height="7.84" fill="#c4501c"/>
<rect x="461.32" y="247.74" width="10.08" height="7.84" fill="#c4501c"/>
<rect x="470.40" y="247.74" width="10.08" height="7.84" fill="#c4501c"/>
<rect x="334.20" y="254.58" width="10.08" height="7.84" fill="#7e7e80"/>
<rect x="343.28" y="254.58" width="10.08" height="7.84" fill="#6f9fd2"/>
<rect x="352.36" y="254.58" width="10.08" height="7.84" fill="#7a92ae"/>
<rect x="361.44" y="254.58" width="10.08" height="7.84" fill="#7a92ae"/>
<rect x="370.52" y="254.58" width="10.08" height="7.84" fill="#7a92ae"/>
<rect x="379.60" y="254.58" width="10.08" height="7.84" fill="#7a92ae"/>
<rect x="388.68" y="254.58" width="10.08" height="7.84" fill="#7a92ae"/>
<rect x="397.76" y="254.58" width="10.08" height="7.84" fill="#7e7e80"/>
<rect x="406.84" y="254.58" width="10.08" height="7.84" fill="#69a5e0"/>
<rect x="415.92" y="254.58" width="10.08" height="7.84" fill="#7e7e80"/>
<rect x="425.00" y="254.58" width="10.08" height="7.84" fill="#69a5e0"/>
<rect x="434.08" y="254.58" width="10.08" height="7.84" fill="#69a5e0"/>
<rect x="443.16" y="254.58" width="10.08" height="7.84" fill="#69a5e0"/>
<rect x="452.24" y="254.58" width="10.08" height="7.84" fill="#7e7e80"/>
<rect x="461.32" y="254.58" width="10.08" height="7.84" fill="#69a5e0"/>
<rect x="470.40" y="254.58" width="10.08" height="7.84" fill="#7a92ae"/>
</g>
<rect x="334.20" y="161.2" width="72.64" height="11" fill="#fff" stroke="#000" stroke-width="1"/>
<rect x="406.84" y="161.2" width="72.64" height="11" fill="#cbcbcb" stroke="#000" stroke-width="1"/>
<text x="370.52" y="169.60" font-size="7.6" text-anchor="middle" font-weight="normal" font-style="normal" fill="#111" >CLL cells</text>
<text x="443.16" y="169.60" font-size="7.6" text-anchor="middle" font-weight="normal" font-style="normal" fill="#111" >CLL-EVs</text>
<text x="481.60" y="176.54" font-size="6.1" text-anchor="start" font-weight="normal" font-style="normal" fill="#111" stroke-width="0.05">miR-363</text>
<text x="481.60" y="183.51" font-size="6.1" text-anchor="start" font-weight="normal" font-style="normal" fill="#111" stroke-width="0.05">miR-374b</text>
<text x="481.60" y="190.48" font-size="6.1" text-anchor="start" font-weight="normal" font-style="normal" fill="#111" stroke-width="0.05">miR-323-3p</text>
<text x="481.60" y="197.45" font-size="6.1" text-anchor="start" font-weight="normal" font-style="normal" fill="#111" stroke-width="0.05">miR-494</text>
<text x="481.60" y="204.42" font-size="6.1" text-anchor="start" font-weight="normal" font-style="normal" fill="#111" stroke-width="0.05">miR-223</text>
<text x="481.60" y="211.39" font-size="6.1" text-anchor="start" font-weight="normal" font-style="normal" fill="#111" stroke-width="0.05">miR-222</text>
<text x="481.60" y="218.36" font-size="6.1" text-anchor="start" font-weight="normal" font-style="normal" fill="#111" stroke-width="0.05">miR-17</text>
<text x="481.60" y="225.33" font-size="6.1" text-anchor="start" font-weight="normal" font-style="normal" fill="#111" stroke-width="0.05">miR-484</text>
<text x="481.60" y="232.30" font-size="6.1" text-anchor="start" font-weight="normal" font-style="normal" fill="#111" stroke-width="0.05">miR-19a</text>
<text x="481.60" y="239.27" font-size="6.1" text-anchor="start" font-weight="normal" font-style="normal" fill="#111" stroke-width="0.05">miR-150</text>
<text x="481.60" y="246.24" font-size="6.1" text-anchor="start" font-weight="normal" font-style="normal" fill="#111" stroke-width="0.05">miR-342-3p</text>
<text x="481.60" y="253.21" font-size="6.1" text-anchor="start" font-weight="normal" font-style="normal" fill="#111" stroke-width="0.05">miR-155</text>
<text x="481.60" y="260.18" font-size="6.1" text-anchor="start" font-weight="normal" font-style="normal" fill="#111" stroke-width="0.05">miR-30c</text>
<rect x="377.8" y="275" width="101.6" height="7.6" fill="url(#hg)" stroke="#2a2a3a" stroke-width="0.9"/>
<line x1="315.68" y1="175.87" x2="333.66" y2="175.87" stroke="#2c2c66" stroke-width="0.9" stroke-linecap="square"/>
<line x1="332.60" y1="183.27" x2="333.66" y2="183.27" stroke="#2c2c66" stroke-width="0.9" stroke-linecap="square"/>
<line x1="332.60" y1="189.62" x2="333.66" y2="189.62" stroke="#2c2c66" stroke-width="0.9" stroke-linecap="square"/>
<line x1="332.60" y1="183.27" x2="332.60" y2="189.62" stroke="#2c2c66" stroke-width="0.9" stroke-linecap="square"/>
<line x1="315.68" y1="186.44" x2="332.60" y2="186.44" stroke="#2c2c66" stroke-width="0.9" stroke-linecap="square"/>
<line x1="315.68" y1="175.87" x2="315.68" y2="186.44" stroke="#2c2c66" stroke-width="0.9" stroke-linecap="square"/>
<line x1="284.58" y1="181.16" x2="315.68" y2="181.16" stroke="#2c2c66" stroke-width="0.9" stroke-linecap="square"/>
<line x1="284.58" y1="197.44" x2="333.66" y2="197.44" stroke="#2c2c66" stroke-width="0.9" stroke-linecap="square"/>
<line x1="284.58" y1="181.16" x2="284.58" y2="197.44" stroke="#2c2c66" stroke-width="0.9" stroke-linecap="square"/>
<line x1="242.27" y1="188.56" x2="284.58" y2="188.56" stroke="#2c2c66" stroke-width="0.9" stroke-linecap="square"/>
<line x1="242.27" y1="188.56" x2="242.27" y2="213.31" stroke="#2c2c66" stroke-width="0.9" stroke-linecap="square"/>
<line x1="242.27" y1="213.31" x2="282.46" y2="213.31" stroke="#2c2c66" stroke-width="0.9" stroke-linecap="square"/>
<line x1="282.46" y1="203.79" x2="282.46" y2="223.47" stroke="#2c2c66" stroke-width="0.9" stroke-linecap="square"/>
<line x1="282.46" y1="203.79" x2="333.66" y2="203.79" stroke="#2c2c66" stroke-width="0.9" stroke-linecap="square"/>
<line x1="282.46" y1="223.47" x2="296.64" y2="223.47" stroke="#2c2c66" stroke-width="0.9" stroke-linecap="square"/>
<line x1="296.64" y1="210.77" x2="296.64" y2="236.58" stroke="#2c2c66" stroke-width="0.9" stroke-linecap="square"/>
<line x1="296.64" y1="210.77" x2="333.66" y2="210.77" stroke="#2c2c66" stroke-width="0.9" stroke-linecap="square"/>
<line x1="296.64" y1="236.58" x2="308.70" y2="236.58" stroke="#2c2c66" stroke-width="0.9" stroke-linecap="square"/>
<line x1="308.70" y1="226.00" x2="308.70" y2="247.79" stroke="#2c2c66" stroke-width="0.9" stroke-linecap="square"/>
<line x1="308.70" y1="226.00" x2="317.79" y2="226.00" stroke="#2c2c66" stroke-width="0.9" stroke-linecap="square"/>
<line x1="317.79" y1="221.35" x2="317.79" y2="230.87" stroke="#2c2c66" stroke-width="0.9" stroke-linecap="square"/>
<line x1="317.79" y1="221.35" x2="327.74" y2="221.35" stroke="#2c2c66" stroke-width="0.9" stroke-linecap="square"/>
<line x1="327.74" y1="217.54" x2="327.74" y2="223.47" stroke="#2c2c66" stroke-width="0.9" stroke-linecap="square"/>
<line x1="327.74" y1="217.54" x2="333.66" y2="217.54" stroke="#2c2c66" stroke-width="0.9" stroke-linecap="square"/>
<line x1="327.74" y1="223.47" x2="333.66" y2="223.47" stroke="#2c2c66" stroke-width="0.9" stroke-linecap="square"/>
<line x1="317.79" y1="230.87" x2="333.66" y2="230.87" stroke="#2c2c66" stroke-width="0.9" stroke-linecap="square"/>
<line x1="308.70" y1="247.79" x2="324.14" y2="247.79" stroke="#2c2c66" stroke-width="0.9" stroke-linecap="square"/>
<line x1="324.14" y1="241.45" x2="324.14" y2="254.14" stroke="#2c2c66" stroke-width="0.9" stroke-linecap="square"/>
<line x1="324.14" y1="241.45" x2="331.12" y2="241.45" stroke="#2c2c66" stroke-width="0.9" stroke-linecap="square"/>
<line x1="331.12" y1="238.27" x2="331.12" y2="244.62" stroke="#2c2c66" stroke-width="0.9" stroke-linecap="square"/>
<line x1="331.12" y1="238.27" x2="333.66" y2="238.27" stroke="#2c2c66" stroke-width="0.9" stroke-linecap="square"/>
<line x1="331.12" y1="244.62" x2="333.66" y2="244.62" stroke="#2c2c66" stroke-width="0.9" stroke-linecap="square"/>
<line x1="324.14" y1="254.14" x2="332.60" y2="254.14" stroke="#2c2c66" stroke-width="0.9" stroke-linecap="square"/>
<line x1="332.60" y1="251.39" x2="332.60" y2="257.74" stroke="#2c2c66" stroke-width="0.9" stroke-linecap="square"/>
<line x1="332.60" y1="251.39" x2="333.66" y2="251.39" stroke="#2c2c66" stroke-width="0.9" stroke-linecap="square"/>
<line x1="332.60" y1="257.74" x2="333.66" y2="257.74" stroke="#2c2c66" stroke-width="0.9" stroke-linecap="square"/>
<text x="7.50" y="303.00" font-size="11.4" text-anchor="start" font-weight="bold" font-style="normal" fill="#000" stroke-width="0">G</text>
<text transform="translate(25.60 412.00) rotate(-90) scale(0.8370 1)" font-size="10.2" fill="#1a1a1a">Log2 median centred value</text>
<text x="65.40" y="320.80" font-size="7.4" text-anchor="middle" font-weight="bold" font-style="normal" fill="#000" >miR-363</text>
<text x="65.40" y="329.7" font-size="7.4" text-anchor="middle" fill="#1a1a1a"><tspan font-style="italic">P</tspan> = .003</text>
<line x1="48.00" y1="353.50" x2="83.30" y2="353.50" stroke="#111" stroke-width="1.15" stroke-dasharray="1 1"/>
<line x1="57.30" y1="370.40" x2="57.30" y2="377.20" stroke="#1a1a1a" stroke-width="1.15" />
<rect x="51.10" y="373.60" width="12.40" height="3.00" fill="#c4c4c4"/>
<line x1="53.90" y1="370.40" x2="60.70" y2="370.40" stroke="#1a1a1a" stroke-width="1.15" />
<line x1="53.90" y1="377.20" x2="60.70" y2="377.20" stroke="#1a1a1a" stroke-width="1.15" />
<line x1="51.10" y1="375.50" x2="63.50" y2="375.50" stroke="#1a1a1a" stroke-width="1.45" />
<line x1="74.80" y1="340.60" x2="74.80" y2="355.40" stroke="#1a1a1a" stroke-width="1.15" />
<rect x="68.60" y="341.40" width="12.40" height="6.20" fill="#c4c4c4"/>
<line x1="71.40" y1="340.60" x2="78.20" y2="340.60" stroke="#1a1a1a" stroke-width="1.15" />
<line x1="71.40" y1="355.40" x2="78.20" y2="355.40" stroke="#1a1a1a" stroke-width="1.15" />
<line x1="68.60" y1="347.50" x2="81.00" y2="347.50" stroke="#1a1a1a" stroke-width="1.45" />
<line x1="47.50" y1="334.10" x2="47.50" y2="388.10" stroke="#1a1a1a" stroke-width="1.15" />
<line x1="44.40" y1="387.60" x2="83.70" y2="387.60" stroke="#1a1a1a" stroke-width="1.15" />
<line x1="44.40" y1="336.80" x2="47.50" y2="336.80" stroke="#1a1a1a" stroke-width="1" />
<text x="41.80" y="339.55" font-size="7.7" text-anchor="end" font-weight="normal" font-style="normal" fill="#1a1a1a" >5</text>
<line x1="44.40" y1="353.80" x2="47.50" y2="353.80" stroke="#1a1a1a" stroke-width="1" />
<text x="41.80" y="356.55" font-size="7.7" text-anchor="end" font-weight="normal" font-style="normal" fill="#1a1a1a" >0</text>
<line x1="44.40" y1="370.70" x2="47.50" y2="370.70" stroke="#1a1a1a" stroke-width="1" />
<text x="41.80" y="373.45" font-size="7.7" text-anchor="end" font-weight="normal" font-style="normal" fill="#1a1a1a" >-5</text>
<line x1="44.40" y1="387.50" x2="47.50" y2="387.50" stroke="#1a1a1a" stroke-width="1" />
<text x="41.80" y="390.25" font-size="7.7" text-anchor="end" font-weight="normal" font-style="normal" fill="#1a1a1a" >-10</text>
<line x1="56.50" y1="387.60" x2="56.50" y2="390.50" stroke="#1a1a1a" stroke-width="1" />
<line x1="74.70" y1="387.60" x2="74.70" y2="390.50" stroke="#1a1a1a" stroke-width="1" />
<text transform="translate(56.10 397.60) rotate(-45)" font-size="8" text-anchor="end" fill="#1a1a1a">CLL</text>
<text transform="translate(74.30 397.60) rotate(-45)" font-size="8" text-anchor="end" fill="#1a1a1a">CLL-EVs</text>
<text x="136.00" y="320.80" font-size="7.4" text-anchor="middle" font-weight="bold" font-style="normal" fill="#000" >miR-374b</text>
<text x="136.00" y="329.7" font-size="7.4" text-anchor="middle" fill="#1a1a1a"><tspan font-style="italic">P</tspan> = .003</text>
<line x1="118.00" y1="336.50" x2="153.30" y2="336.50" stroke="#111" stroke-width="1.15" stroke-dasharray="1 1"/>
<line x1="126.50" y1="368.00" x2="126.50" y2="379.30" stroke="#1a1a1a" stroke-width="1.15" />
<rect x="120.00" y="373.40" width="13.00" height="3.20" fill="#c4c4c4"/>
<line x1="123.10" y1="368.00" x2="129.90" y2="368.00" stroke="#1a1a1a" stroke-width="1.15" />
<line x1="123.10" y1="379.30" x2="129.90" y2="379.30" stroke="#1a1a1a" stroke-width="1.15" />
<line x1="120.00" y1="375.20" x2="133.00" y2="375.20" stroke="#1a1a1a" stroke-width="1.45" />
<line x1="144.80" y1="354.20" x2="144.80" y2="365.00" stroke="#1a1a1a" stroke-width="1.15" />
<rect x="138.30" y="355.00" width="13.00" height="5.90" fill="#c4c4c4"/>
<line x1="141.40" y1="354.20" x2="148.20" y2="354.20" stroke="#1a1a1a" stroke-width="1.15" />
<line x1="141.40" y1="365.00" x2="148.20" y2="365.00" stroke="#1a1a1a" stroke-width="1.15" />
<line x1="138.30" y1="359.20" x2="151.30" y2="359.20" stroke="#1a1a1a" stroke-width="1.45" />
<line x1="117.45" y1="334.10" x2="117.45" y2="388.10" stroke="#1a1a1a" stroke-width="1.15" />
<line x1="114.40" y1="387.60" x2="153.70" y2="387.60" stroke="#1a1a1a" stroke-width="1.15" />
<line x1="114.35" y1="336.80" x2="117.45" y2="336.80" stroke="#1a1a1a" stroke-width="1" />
<text x="111.80" y="339.55" font-size="7.7" text-anchor="end" font-weight="normal" font-style="normal" fill="#1a1a1a" >0</text>
<line x1="114.35" y1="349.50" x2="117.45" y2="349.50" stroke="#1a1a1a" stroke-width="1" />
<text x="111.80" y="352.25" font-size="7.7" text-anchor="end" font-weight="normal" font-style="normal" fill="#1a1a1a" >-5</text>
<line x1="114.35" y1="362.10" x2="117.45" y2="362.10" stroke="#1a1a1a" stroke-width="1" />
<text x="111.80" y="364.85" font-size="7.7" text-anchor="end" font-weight="normal" font-style="normal" fill="#1a1a1a" >-10</text>
<line x1="114.35" y1="374.80" x2="117.45" y2="374.80" stroke="#1a1a1a" stroke-width="1" />
<text x="111.80" y="377.55" font-size="7.7" text-anchor="end" font-weight="normal" font-style="normal" fill="#1a1a1a" >-15</text>
<line x1="114.35" y1="387.50" x2="117.45" y2="387.50" stroke="#1a1a1a" stroke-width="1" />
<text x="111.80" y="390.25" font-size="7.7" text-anchor="end" font-weight="normal" font-style="normal" fill="#1a1a1a" >-20</text>
<line x1="126.20" y1="387.60" x2="126.20" y2="390.50" stroke="#1a1a1a" stroke-width="1" />
<line x1="144.60" y1="387.60" x2="144.60" y2="390.50" stroke="#1a1a1a" stroke-width="1" />
<text transform="translate(125.80 397.60) rotate(-45)" font-size="8" text-anchor="end" fill="#1a1a1a">CLL</text>
<text transform="translate(144.20 397.60) rotate(-45)" font-size="8" text-anchor="end" fill="#1a1a1a">CLL-EVs</text>
<text x="205.40" y="320.80" font-size="7.4" text-anchor="middle" font-weight="bold" font-style="normal" fill="#000" >miR-323-3p</text>
<text x="205.40" y="329.7" font-size="7.4" text-anchor="middle" fill="#1a1a1a"><tspan font-style="italic">P</tspan> = .003</text>
<line x1="188.00" y1="336.50" x2="223.30" y2="336.50" stroke="#111" stroke-width="1.15" stroke-dasharray="1 1"/>
<line x1="196.40" y1="371.00" x2="196.40" y2="379.30" stroke="#1a1a1a" stroke-width="1.15" />
<line x1="193.00" y1="371.00" x2="199.80" y2="371.00" stroke="#1a1a1a" stroke-width="1.15" />
<line x1="193.00" y1="379.30" x2="199.80" y2="379.30" stroke="#1a1a1a" stroke-width="1.15" />
<line x1="189.90" y1="375.20" x2="202.90" y2="375.20" stroke="#1a1a1a" stroke-width="1.45" />
<line x1="214.70" y1="346.50" x2="214.70" y2="355.90" stroke="#1a1a1a" stroke-width="1.15" />
<rect x="208.30" y="348.90" width="12.80" height="5.10" fill="#c4c4c4"/>
<line x1="211.30" y1="346.50" x2="218.10" y2="346.50" stroke="#1a1a1a" stroke-width="1.15" />
<line x1="211.30" y1="355.90" x2="218.10" y2="355.90" stroke="#1a1a1a" stroke-width="1.15" />
<line x1="208.30" y1="353.90" x2="221.10" y2="353.90" stroke="#1a1a1a" stroke-width="1.45" />
<line x1="187.10" y1="334.10" x2="187.10" y2="388.10" stroke="#1a1a1a" stroke-width="1.15" />
<line x1="184.20" y1="387.60" x2="223.70" y2="387.60" stroke="#1a1a1a" stroke-width="1.15" />
<line x1="184.00" y1="336.80" x2="187.10" y2="336.80" stroke="#1a1a1a" stroke-width="1" />
<text x="181.80" y="339.55" font-size="7.7" text-anchor="end" font-weight="normal" font-style="normal" fill="#1a1a1a" >0</text>
<line x1="184.00" y1="349.50" x2="187.10" y2="349.50" stroke="#1a1a1a" stroke-width="1" />
<text x="181.80" y="352.25" font-size="7.7" text-anchor="end" font-weight="normal" font-style="normal" fill="#1a1a1a" >-5</text>
<line x1="184.00" y1="362.10" x2="187.10" y2="362.10" stroke="#1a1a1a" stroke-width="1" />
<text x="181.80" y="364.85" font-size="7.7" text-anchor="end" font-weight="normal" font-style="normal" fill="#1a1a1a" >-10</text>
<line x1="184.00" y1="374.80" x2="187.10" y2="374.80" stroke="#1a1a1a" stroke-width="1" />
<text x="181.80" y="377.55" font-size="7.7" text-anchor="end" font-weight="normal" font-style="normal" fill="#1a1a1a" >-15</text>
<line x1="184.00" y1="387.50" x2="187.10" y2="387.50" stroke="#1a1a1a" stroke-width="1" />
<text x="181.80" y="390.25" font-size="7.7" text-anchor="end" font-weight="normal" font-style="normal" fill="#1a1a1a" >-20</text>
<line x1="195.90" y1="387.60" x2="195.90" y2="390.50" stroke="#1a1a1a" stroke-width="1" />
<line x1="214.60" y1="387.60" x2="214.60" y2="390.50" stroke="#1a1a1a" stroke-width="1" />
<text transform="translate(195.50 397.60) rotate(-45)" font-size="8" text-anchor="end" fill="#1a1a1a">CLL</text>
<text transform="translate(214.20 397.60) rotate(-45)" font-size="8" text-anchor="end" fill="#1a1a1a">CLL-EVs</text>
<text x="277.40" y="320.80" font-size="7.4" text-anchor="middle" font-weight="bold" font-style="normal" fill="#000" >miR-494</text>
<text x="277.40" y="329.7" font-size="7.4" text-anchor="middle" fill="#1a1a1a"><tspan font-style="italic">P</tspan> = .004</text>
<line x1="259.00" y1="346.50" x2="300.40" y2="346.50" stroke="#111" stroke-width="1.15" stroke-dasharray="1 1"/>
<line x1="269.90" y1="362.40" x2="269.90" y2="379.30" stroke="#1a1a1a" stroke-width="1.15" />
<rect x="262.60" y="363.00" width="14.60" height="3.80" fill="#c4c4c4"/>
<line x1="266.00" y1="362.40" x2="273.80" y2="362.40" stroke="#1a1a1a" stroke-width="1.15" />
<line x1="266.00" y1="379.30" x2="273.80" y2="379.30" stroke="#1a1a1a" stroke-width="1.15" />
<line x1="262.60" y1="366.00" x2="277.20" y2="366.00" stroke="#1a1a1a" stroke-width="1.45" />
<line x1="290.20" y1="342.40" x2="290.20" y2="357.40" stroke="#1a1a1a" stroke-width="1.15" />
<rect x="283.00" y="350.60" width="14.40" height="2.60" fill="#c4c4c4"/>
<line x1="286.40" y1="342.40" x2="294.00" y2="342.40" stroke="#1a1a1a" stroke-width="1.15" />
<line x1="286.40" y1="357.40" x2="294.00" y2="357.40" stroke="#1a1a1a" stroke-width="1.15" />
<line x1="283.00" y1="351.30" x2="297.40" y2="351.30" stroke="#1a1a1a" stroke-width="1.45" />
<line x1="258.90" y1="334.10" x2="258.90" y2="388.10" stroke="#1a1a1a" stroke-width="1.15" />
<line x1="256.00" y1="387.60" x2="300.80" y2="387.60" stroke="#1a1a1a" stroke-width="1.15" />
<line x1="255.80" y1="336.10" x2="258.90" y2="336.10" stroke="#1a1a1a" stroke-width="1" />
<text x="253.60" y="338.85" font-size="7.7" text-anchor="end" font-weight="normal" font-style="normal" fill="#1a1a1a" >5</text>
<line x1="255.80" y1="346.50" x2="258.90" y2="346.50" stroke="#1a1a1a" stroke-width="1" />
<text x="253.60" y="349.25" font-size="7.7" text-anchor="end" font-weight="normal" font-style="normal" fill="#1a1a1a" >0</text>
<line x1="255.80" y1="356.90" x2="258.90" y2="356.90" stroke="#1a1a1a" stroke-width="1" />
<text x="253.60" y="359.65" font-size="7.7" text-anchor="end" font-weight="normal" font-style="normal" fill="#1a1a1a" >-5</text>
<line x1="255.80" y1="367.10" x2="258.90" y2="367.10" stroke="#1a1a1a" stroke-width="1" />
<text x="253.60" y="369.85" font-size="7.7" text-anchor="end" font-weight="normal" font-style="normal" fill="#1a1a1a" >-10</text>
<line x1="255.80" y1="377.50" x2="258.90" y2="377.50" stroke="#1a1a1a" stroke-width="1" />
<text x="253.60" y="380.25" font-size="7.7" text-anchor="end" font-weight="normal" font-style="normal" fill="#1a1a1a" >-15</text>
<line x1="255.80" y1="387.70" x2="258.90" y2="387.70" stroke="#1a1a1a" stroke-width="1" />
<text x="253.60" y="390.45" font-size="7.7" text-anchor="end" font-weight="normal" font-style="normal" fill="#1a1a1a" >-20</text>
<line x1="269.50" y1="387.60" x2="269.50" y2="390.50" stroke="#1a1a1a" stroke-width="1" />
<line x1="290.20" y1="387.60" x2="290.20" y2="390.50" stroke="#1a1a1a" stroke-width="1" />
<text transform="translate(269.10 397.60) rotate(-45)" font-size="8" text-anchor="end" fill="#1a1a1a">CLL</text>
<text transform="translate(289.80 397.60) rotate(-45)" font-size="8" text-anchor="end" fill="#1a1a1a">CLL-EVs</text>
<text x="347.30" y="320.80" font-size="7.4" text-anchor="middle" font-weight="bold" font-style="normal" fill="#000" >miR-150</text>
<text x="347.30" y="329.7" font-size="7.4" text-anchor="middle" fill="#1a1a1a"><tspan font-style="italic">P</tspan> = .003</text>
<line x1="330.00" y1="334.50" x2="367.00" y2="334.50" stroke="#111" stroke-width="1.15" stroke-dasharray="1 1"/>
<line x1="338.90" y1="341.90" x2="338.90" y2="345.90" stroke="#1a1a1a" stroke-width="1.15" />
<line x1="335.50" y1="345.90" x2="342.30" y2="345.90" stroke="#1a1a1a" stroke-width="1.15" />
<line x1="332.70" y1="341.90" x2="345.10" y2="341.90" stroke="#1a1a1a" stroke-width="1.45" />
<line x1="358.20" y1="336.30" x2="358.20" y2="376.30" stroke="#1a1a1a" stroke-width="1.15" />
<rect x="352.20" y="352.80" width="12.00" height="21.50" fill="#c4c4c4"/>
<line x1="354.80" y1="336.30" x2="361.60" y2="336.30" stroke="#1a1a1a" stroke-width="1.15" />
<line x1="354.80" y1="376.30" x2="361.60" y2="376.30" stroke="#1a1a1a" stroke-width="1.15" />
<line x1="352.20" y1="369.30" x2="364.20" y2="369.30" stroke="#1a1a1a" stroke-width="1.45" />
<line x1="329.45" y1="331.50" x2="329.45" y2="388.10" stroke="#1a1a1a" stroke-width="1.15" />
<line x1="326.40" y1="387.60" x2="367.40" y2="387.60" stroke="#1a1a1a" stroke-width="1.15" />
<line x1="326.35" y1="334.50" x2="329.45" y2="334.50" stroke="#1a1a1a" stroke-width="1" />
<text x="323.80" y="337.25" font-size="7.7" text-anchor="end" font-weight="normal" font-style="normal" fill="#1a1a1a" >0</text>
<line x1="326.35" y1="347.80" x2="329.45" y2="347.80" stroke="#1a1a1a" stroke-width="1" />
<text x="323.80" y="350.55" font-size="7.7" text-anchor="end" font-weight="normal" font-style="normal" fill="#1a1a1a" >-2</text>
<line x1="326.35" y1="361.00" x2="329.45" y2="361.00" stroke="#1a1a1a" stroke-width="1" />
<text x="323.80" y="363.75" font-size="7.7" text-anchor="end" font-weight="normal" font-style="normal" fill="#1a1a1a" >-4</text>
<line x1="326.35" y1="374.30" x2="329.45" y2="374.30" stroke="#1a1a1a" stroke-width="1" />
<text x="323.80" y="377.05" font-size="7.7" text-anchor="end" font-weight="normal" font-style="normal" fill="#1a1a1a" >-6</text>
<line x1="326.35" y1="387.60" x2="329.45" y2="387.60" stroke="#1a1a1a" stroke-width="1" />
<text x="323.80" y="390.35" font-size="7.7" text-anchor="end" font-weight="normal" font-style="normal" fill="#1a1a1a" >-8</text>
<line x1="338.90" y1="387.60" x2="338.90" y2="390.50" stroke="#1a1a1a" stroke-width="1" />
<line x1="358.00" y1="387.60" x2="358.00" y2="390.50" stroke="#1a1a1a" stroke-width="1" />
<text transform="translate(338.50 397.60) rotate(-45)" font-size="8" text-anchor="end" fill="#1a1a1a">CLL</text>
<text transform="translate(357.60 397.60) rotate(-45)" font-size="8" text-anchor="end" fill="#1a1a1a">CLL-EVs</text>
<text x="419.30" y="320.80" font-size="7.4" text-anchor="middle" font-weight="bold" font-style="normal" fill="#000" >miR-484</text>
<text x="419.30" y="329.7" font-size="7.4" text-anchor="middle" fill="#1a1a1a"><tspan font-style="italic">P</tspan> = .009</text>
<line x1="401.00" y1="337.50" x2="439.20" y2="337.50" stroke="#111" stroke-width="1.15" stroke-dasharray="1 1"/>
<line x1="410.40" y1="357.40" x2="410.40" y2="362.20" stroke="#1a1a1a" stroke-width="1.15" />
<rect x="404.20" y="359.60" width="12.40" height="1.70" fill="#c4c4c4"/>
<line x1="407.00" y1="357.40" x2="413.80" y2="357.40" stroke="#1a1a1a" stroke-width="1.15" />
<line x1="407.00" y1="362.20" x2="413.80" y2="362.20" stroke="#1a1a1a" stroke-width="1.15" />
<line x1="404.20" y1="360.40" x2="416.60" y2="360.40" stroke="#1a1a1a" stroke-width="1.45" />
<line x1="428.80" y1="365.00" x2="428.80" y2="380.50" stroke="#1a1a1a" stroke-width="1.15" />
<rect x="422.70" y="366.00" width="12.20" height="10.00" fill="#c4c4c4"/>
<line x1="425.40" y1="365.00" x2="432.20" y2="365.00" stroke="#1a1a1a" stroke-width="1.15" />
<line x1="425.40" y1="380.50" x2="432.20" y2="380.50" stroke="#1a1a1a" stroke-width="1.15" />
<line x1="422.70" y1="370.30" x2="434.90" y2="370.30" stroke="#1a1a1a" stroke-width="1.45" />
<line x1="400.70" y1="334.10" x2="400.70" y2="388.30" stroke="#1a1a1a" stroke-width="1.15" />
<line x1="397.70" y1="387.80" x2="439.60" y2="387.80" stroke="#1a1a1a" stroke-width="1.15" />
<line x1="397.60" y1="337.10" x2="400.70" y2="337.10" stroke="#1a1a1a" stroke-width="1" />
<text x="395.10" y="339.85" font-size="7.7" text-anchor="end" font-weight="normal" font-style="normal" fill="#1a1a1a" >0</text>
<line x1="397.60" y1="353.80" x2="400.70" y2="353.80" stroke="#1a1a1a" stroke-width="1" />
<text x="395.10" y="356.55" font-size="7.7" text-anchor="end" font-weight="normal" font-style="normal" fill="#1a1a1a" >-5</text>
<line x1="397.60" y1="370.70" x2="400.70" y2="370.70" stroke="#1a1a1a" stroke-width="1" />
<text x="395.10" y="373.45" font-size="7.7" text-anchor="end" font-weight="normal" font-style="normal" fill="#1a1a1a" >-10</text>
<line x1="397.60" y1="387.70" x2="400.70" y2="387.70" stroke="#1a1a1a" stroke-width="1" />
<text x="395.10" y="390.45" font-size="7.7" text-anchor="end" font-weight="normal" font-style="normal" fill="#1a1a1a" >-15</text>
<line x1="410.40" y1="387.80" x2="410.40" y2="390.70" stroke="#1a1a1a" stroke-width="1" />
<line x1="428.80" y1="387.80" x2="428.80" y2="390.70" stroke="#1a1a1a" stroke-width="1" />
<text transform="translate(410.00 397.80) rotate(-45)" font-size="8" text-anchor="end" fill="#1a1a1a">CLL</text>
<text transform="translate(428.40 397.80) rotate(-45)" font-size="8" text-anchor="end" fill="#1a1a1a">CLL-EVs</text>
<text x="491.20" y="320.80" font-size="7.4" text-anchor="middle" font-weight="bold" font-style="normal" fill="#000" >miR-17</text>
<text x="491.20" y="329.7" font-size="7.4" text-anchor="middle" fill="#1a1a1a"><tspan font-style="italic">P</tspan> = .009</text>
<line x1="473.00" y1="345.50" x2="511.20" y2="345.50" stroke="#111" stroke-width="1.15" stroke-dasharray="1 1"/>
<line x1="482.40" y1="343.60" x2="482.40" y2="348.90" stroke="#1a1a1a" stroke-width="1.15" />
<rect x="476.20" y="345.20" width="12.40" height="1.20" fill="#c4c4c4"/>
<line x1="479.00" y1="343.60" x2="485.80" y2="343.60" stroke="#1a1a1a" stroke-width="1.15" />
<line x1="479.00" y1="348.90" x2="485.80" y2="348.90" stroke="#1a1a1a" stroke-width="1.15" />
<line x1="476.20" y1="345.90" x2="488.60" y2="345.90" stroke="#1a1a1a" stroke-width="1.45" />
<line x1="500.80" y1="351.50" x2="500.80" y2="379.30" stroke="#1a1a1a" stroke-width="1.15" />
<rect x="494.60" y="356.50" width="12.40" height="16.00" fill="#c4c4c4"/>
<line x1="497.40" y1="351.50" x2="504.20" y2="351.50" stroke="#1a1a1a" stroke-width="1.15" />
<line x1="497.40" y1="379.30" x2="504.20" y2="379.30" stroke="#1a1a1a" stroke-width="1.15" />
<line x1="494.60" y1="361.80" x2="507.00" y2="361.80" stroke="#1a1a1a" stroke-width="1.45" />
<line x1="472.70" y1="334.10" x2="472.70" y2="388.30" stroke="#1a1a1a" stroke-width="1.15" />
<line x1="469.70" y1="387.80" x2="511.60" y2="387.80" stroke="#1a1a1a" stroke-width="1.15" />
<line x1="469.60" y1="337.10" x2="472.70" y2="337.10" stroke="#1a1a1a" stroke-width="1" />
<text x="467.40" y="339.85" font-size="7.7" text-anchor="end" font-weight="normal" font-style="normal" fill="#1a1a1a" >2</text>
<line x1="469.60" y1="345.30" x2="472.70" y2="345.30" stroke="#1a1a1a" stroke-width="1" />
<text x="467.40" y="348.05" font-size="7.7" text-anchor="end" font-weight="normal" font-style="normal" fill="#1a1a1a" >0</text>
<line x1="469.60" y1="353.90" x2="472.70" y2="353.90" stroke="#1a1a1a" stroke-width="1" />
<text x="467.40" y="356.65" font-size="7.7" text-anchor="end" font-weight="normal" font-style="normal" fill="#1a1a1a" >-2</text>
<line x1="469.60" y1="362.40" x2="472.70" y2="362.40" stroke="#1a1a1a" stroke-width="1" />
<text x="467.40" y="365.15" font-size="7.7" text-anchor="end" font-weight="normal" font-style="normal" fill="#1a1a1a" >-4</text>
<line x1="469.60" y1="370.90" x2="472.70" y2="370.90" stroke="#1a1a1a" stroke-width="1" />
<text x="467.40" y="373.65" font-size="7.7" text-anchor="end" font-weight="normal" font-style="normal" fill="#1a1a1a" >-6</text>
<line x1="469.60" y1="379.30" x2="472.70" y2="379.30" stroke="#1a1a1a" stroke-width="1" />
<text x="467.40" y="382.05" font-size="7.7" text-anchor="end" font-weight="normal" font-style="normal" fill="#1a1a1a" >-8</text>
<line x1="469.60" y1="387.70" x2="472.70" y2="387.70" stroke="#1a1a1a" stroke-width="1" />
<text x="467.40" y="390.45" font-size="7.7" text-anchor="end" font-weight="normal" font-style="normal" fill="#1a1a1a" >-10</text>
<line x1="482.40" y1="387.80" x2="482.40" y2="390.70" stroke="#1a1a1a" stroke-width="1" />
<line x1="500.80" y1="387.80" x2="500.80" y2="390.70" stroke="#1a1a1a" stroke-width="1" />
<text transform="translate(482.00 397.80) rotate(-45)" font-size="8" text-anchor="end" fill="#1a1a1a">CLL</text>
<text transform="translate(500.40 397.80) rotate(-45)" font-size="8" text-anchor="end" fill="#1a1a1a">CLL-EVs</text>
<text x="6.90" y="442.10" font-size="11.4" text-anchor="start" font-weight="bold" font-style="normal" fill="#000" stroke-width="0">H</text>
<text transform="translate(24.60 522.15) rotate(-90) scale(0.8257 1)" font-size="10.2" fill="#1a1a1a">Relative expression</text>
<line x1="47.80" y1="455.20" x2="47.80" y2="462.70" stroke="#1a1a1a" stroke-width="1.15" />
<line x1="44.40" y1="455.20" x2="50.80" y2="455.20" stroke="#1a1a1a" stroke-width="1" />
<line x1="44.20" y1="462.70" x2="50.90" y2="462.70" stroke="#1a1a1a" stroke-width="1" />
<line x1="47.80" y1="467.40" x2="47.80" y2="475.20" stroke="#1a1a1a" stroke-width="1.15" />
<line x1="44.40" y1="467.40" x2="50.80" y2="467.40" stroke="#1a1a1a" stroke-width="1" />
<line x1="44.20" y1="475.20" x2="50.90" y2="475.20" stroke="#1a1a1a" stroke-width="1" />
<line x1="47.80" y1="480.60" x2="47.80" y2="509.40" stroke="#1a1a1a" stroke-width="1.15" />
<line x1="44.20" y1="480.60" x2="50.90" y2="480.60" stroke="#1a1a1a" stroke-width="1" />
<line x1="44.20" y1="508.90" x2="47.80" y2="508.90" stroke="#1a1a1a" stroke-width="1" />
<text x="40.80" y="460.65" font-size="7.7" text-anchor="end" font-weight="normal" font-style="normal" fill="#1a1a1a" >1</text>
<text x="40.80" y="466.55" font-size="7.7" text-anchor="end" font-weight="normal" font-style="normal" fill="#1a1a1a" >0.9</text>
<text x="40.80" y="472.65" font-size="7.7" text-anchor="end" font-weight="normal" font-style="normal" fill="#1a1a1a" >0.5</text>
<text x="40.80" y="479.75" font-size="7.7" text-anchor="end" font-weight="normal" font-style="normal" fill="#1a1a1a" >0.4</text>
<text x="40.80" y="485.75" font-size="7.7" text-anchor="end" font-weight="normal" font-style="normal" fill="#1a1a1a" >0.2</text>
<text x="40.80" y="513.95" font-size="7.7" text-anchor="end" font-weight="normal" font-style="normal" fill="#1a1a1a" >0</text>
<line x1="52.60" y1="516.10" x2="143.80" y2="516.10" stroke="#1a1a1a" stroke-width="1.15" />
<line x1="56.50" y1="516.10" x2="56.50" y2="519.00" stroke="#1a1a1a" stroke-width="1" />
<line x1="70.75" y1="516.10" x2="70.75" y2="519.00" stroke="#1a1a1a" stroke-width="1" />
<line x1="85.00" y1="516.10" x2="85.00" y2="519.00" stroke="#1a1a1a" stroke-width="1" />
<line x1="99.25" y1="516.10" x2="99.25" y2="519.00" stroke="#1a1a1a" stroke-width="1" />
<line x1="113.50" y1="516.10" x2="113.50" y2="519.00" stroke="#1a1a1a" stroke-width="1" />
<line x1="127.75" y1="516.10" x2="127.75" y2="519.00" stroke="#1a1a1a" stroke-width="1" />
<line x1="142.00" y1="516.10" x2="142.00" y2="519.00" stroke="#1a1a1a" stroke-width="1" />
<text x="56.30" y="527.80" font-size="8.1" text-anchor="middle" font-weight="normal" font-style="normal" fill="#1a1a1a" >1</text>
<text x="85.00" y="527.80" font-size="8.1" text-anchor="middle" font-weight="normal" font-style="normal" fill="#1a1a1a" >100</text>
<text x="113.50" y="527.80" font-size="8.1" text-anchor="middle" font-weight="normal" font-style="normal" fill="#1a1a1a" >200</text>
<text x="142.00" y="527.80" font-size="8.1" text-anchor="middle" font-weight="normal" font-style="normal" fill="#1a1a1a" >300</text>
<text transform="translate(73.75 541.40) scale(0.8119 1)" font-size="10.2" fill="#1a1a1a">RankOrder</text>
<rect x="56" y="459.3" width="1.3" height="1.3" fill="#111"/><rect x="56" y="468.6" width="1.3" height="1.3" fill="#111"/>
<path d="M57.4 484.5 L57.7 490 L58.2 496 L59 501 L60 504.3 L61.5 506.6 L63.8 508.1" fill="none" stroke="#111" stroke-width="1.4" stroke-dasharray="1.7 1.1"/>
<path d="M60.4 505.2 C61.6 507.4 63.5 508.6 66 508.6 L143 508.6" fill="none" stroke="#111" stroke-width="1.6"/>
<line x1="67.20" y1="480.40" x2="60.70" y2="505.60" stroke="#c8432b" stroke-width="1.15" />
<polygon points="60.60,505.99 62.64,503.72 59.91,503.02" fill="#c8432b"/>
<line x1="75.80" y1="488.60" x2="65.20" y2="507.00" stroke="#c8432b" stroke-width="1.15" />
<polygon points="65.00,507.35 67.57,505.71 65.13,504.30" fill="#c8432b"/>
<line x1="90.80" y1="500.00" x2="90.80" y2="507.30" stroke="#c8432b" stroke-width="1.1" />
<polygon points="90.80,507.70 92.05,505.25 89.55,505.25" fill="#c8432b"/>
<line x1="134.40" y1="500.00" x2="134.40" y2="507.30" stroke="#c8432b" stroke-width="1.1" />
<polygon points="134.40,507.70 135.65,505.25 133.15,505.25" fill="#c8432b"/>
<text x="64.20" y="477.00" font-size="7.5" text-anchor="start" font-weight="bold" font-style="normal" fill="#000" >miR-374b</text>
<text x="74.60" y="485.70" font-size="7.5" text-anchor="start" font-weight="bold" font-style="normal" fill="#000" >miR-363</text>
<text x="80.70" y="497.20" font-size="7.5" text-anchor="start" font-weight="bold" font-style="normal" fill="#000" >miR-494</text>
<text x="116.20" y="497.20" font-size="7.5" text-anchor="start" font-weight="bold" font-style="normal" fill="#000" >miR-323-3p</text>
<text x="185.80" y="441.40" font-size="11.4" text-anchor="start" font-weight="bold" font-style="normal" fill="#000" stroke-width="0">I</text>
<text x="275.80" y="456.00" font-size="9.6" text-anchor="middle" font-weight="normal" font-style="normal" fill="#222" >CLL cells</text>
<text x="478.60" y="455.90" font-size="9.6" text-anchor="middle" font-weight="normal" font-style="normal" fill="#222" >CLL-EVs</text>
<path d="M277.25 516.11 L277.96 535.40 A20.4 19.3 0 0 1 269.28 533.88 Z" fill="#4a4a4a"/>
<path d="M275.20 515.25 L267.23 533.01 A20.4 19.3 0 0 1 260.16 528.29 Z" fill="#232323"/>
<path d="M273.85 513.85 L258.81 526.89 A20.4 19.3 0 0 1 255.21 521.70 Z" fill="#585858"/>
<path d="M273.18 512.36 L254.54 520.21 A20.4 19.3 0 0 1 252.90 514.48 Z" fill="#7c7c7c"/>
<path d="M273.00 510.89 L252.72 513.00 A20.4 19.3 0 0 1 252.84 507.93 Z" fill="#2a2a2a"/>
<path d="M273.22 509.51 L253.06 506.56 A20.4 19.3 0 0 1 254.65 501.51 Z" fill="#6c6c6c"/>
<path d="M273.73 508.34 L255.17 500.34 A20.4 19.3 0 0 1 257.44 496.73 Z" fill="#222222"/>
<path d="M275.66 506.23 L259.48 494.48 A20.4 19.3 0 0 1 260.62 493.19 Z" fill="#6a6a6a"/>
<path d="M275.66 506.23 L260.87 492.95 A20.4 19.3 0 0 1 261.75 492.12 Z" fill="#1e1e1e"/>
<path d="M275.66 506.23 L262.01 491.89 A20.4 19.3 0 0 1 263.25 490.92 Z" fill="#808080"/>
<path d="M275.66 506.23 L263.53 490.72 A20.4 19.3 0 0 1 264.41 490.14 Z" fill="#303030"/>
<path d="M275.66 506.23 L264.70 489.95 A20.4 19.3 0 0 1 265.93 489.27 Z" fill="#868686"/>
<path d="M275.66 506.23 L266.25 489.11 A20.4 19.3 0 0 1 267.04 488.74 Z" fill="#484848"/>
<path d="M275.66 506.23 L267.37 488.60 A20.4 19.3 0 0 1 268.69 488.10 Z" fill="#8e8e8e"/>
<path d="M275.66 506.23 L269.02 487.98 A20.4 19.3 0 0 1 269.70 487.78 Z" fill="#6a6a6a"/>
<path d="M275.66 506.23 L269.91 487.72 A20.4 19.3 0 0 1 271.38 487.36 Z" fill="#949494"/>
<path d="M275.66 506.23 L271.47 487.35 A20.4 19.3 0 0 1 272.78 487.13 Z" fill="#868686"/>
<path d="M275.66 506.23 L272.87 487.11 A20.4 19.3 0 0 1 274.20 486.98 Z" fill="#949494"/>
<path d="M275.66 506.23 L274.28 486.98 A20.4 19.3 0 0 1 275.62 486.93 Z" fill="#8a8a8a"/>
<circle cx="275.0" cy="509.6" r="11" fill="url(#pg)"/>
<path d="M282.66 508.32 L282.66 489.02 A20.4 19.3 0 0 1 300.67 517.38 Z" fill="#2b2b2b"/>
<path d="M280.96 515.41 L298.97 524.47 A20.4 19.3 0 0 1 281.67 534.70 Z" fill="#7d7d7d"/>
<text x="254.80" y="498.90" font-size="8.2" text-anchor="end" font-weight="normal" font-style="normal" fill="#111" >miR-20a</text>
<text x="253.40" y="505.00" font-size="8.2" text-anchor="end" font-weight="normal" font-style="normal" fill="#111" >miR-19b</text>
<text x="251.30" y="512.80" font-size="8.2" text-anchor="end" font-weight="normal" font-style="normal" fill="#111" >miR-223</text>
<text x="251.30" y="519.90" font-size="8.2" text-anchor="end" font-weight="normal" font-style="normal" fill="#111" >miR-16</text>
<text x="252.80" y="528.20" font-size="8.2" text-anchor="end" font-weight="normal" font-style="normal" fill="#111" >miR-143</text>
<text x="258.40" y="535.70" font-size="8.2" text-anchor="end" font-weight="normal" font-style="normal" fill="#111" >miR-106a</text>
<text x="251.80" y="544.00" font-size="8.2" text-anchor="start" font-weight="normal" font-style="normal" fill="#111" >miR-17</text>
<text x="303.80" y="501.80" font-size="8.2" text-anchor="start" font-weight="normal" font-style="normal" fill="#111" >miR-150</text>
<text x="295.20" y="538.50" font-size="8.2" text-anchor="start" font-weight="normal" font-style="normal" fill="#111" >miR-155</text>
<path d="M483.10 511.50 L483.10 492.10 A20.5 19.4 0 1 1 465.17 502.09 Z" fill="#333333"/>
<path d="M475.40 502.30 L459.80 492.66 A18.6 17.7 0 0 1 466.75 486.63 Z" fill="#8a8a8a"/>
<path d="M478.10 503.10 L469.18 485.47 A20.0 19.7 0 0 1 472.25 484.26 Z" fill="#303030"/>
<path d="M478.10 503.10 L472.35 484.23 A20.0 19.7 0 0 1 474.11 483.80 Z" fill="#8c8c8c"/>
<path d="M478.10 503.10 L474.22 483.78 A20.0 19.7 0 0 1 475.66 483.55 Z" fill="#383838"/>
<path d="M478.10 503.10 L475.77 483.53 A20.0 19.7 0 0 1 477.23 483.42 Z" fill="#9c9c9c"/>
<path d="M478.10 503.10 L477.30 483.42 A20.0 19.7 0 0 1 477.96 483.40 Z" fill="#505050"/>
<path d="M478.10 503.10 L478.07 483.40 A20.0 19.7 0 0 1 479.67 483.46 Z" fill="#b8b8b8"/>
<text x="441.50" y="480.80" font-size="8" text-anchor="start" font-weight="normal" font-style="normal" fill="#111" >miR-155</text>
<text x="429.60" y="489.40" font-size="8" text-anchor="start" font-weight="normal" font-style="normal" fill="#111" >miR-363</text>
<text x="467.30" y="540.00" font-size="8" text-anchor="start" font-weight="normal" font-style="normal" fill="#111" >miR-374b</text>
<rect x="0.5" y="0.5" width="519" height="550" fill="none" stroke="#000" stroke-width="1.2"/>
</svg></body></html>
